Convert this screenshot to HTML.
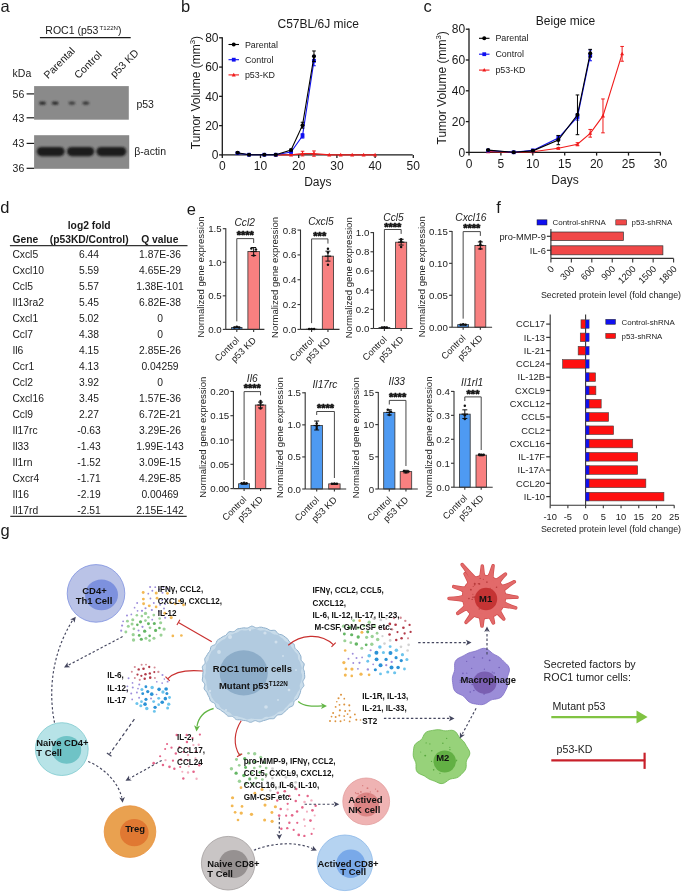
<!DOCTYPE html>
<html><head><meta charset="utf-8"><title>figure</title>
<style>html,body{margin:0;padding:0;background:#fff;width:685px;height:893px;overflow:hidden}svg{display:block;will-change:transform}text{font-family:"Liberation Sans",sans-serif}</style>
</head><body>
<svg width="685" height="893" viewBox="0 0 685 893" fill="#1a1a1a">
<text x="0.40" y="12.00" font-size="16.5">a</text>
<text x="181.00" y="12.00" font-size="16.5">b</text>
<text x="423.40" y="12.00" font-size="16.5">c</text>
<text x="0.20" y="213.40" font-size="16.5">d</text>
<text x="186.80" y="214.50" font-size="16.5">e</text>
<text x="496.20" y="213.20" font-size="16.5">f</text>
<text x="0.40" y="536.00" font-size="16.5">g</text>
<text x="45.3" y="33.6" font-size="10.5">ROC1 (p53<tspan font-size="6.0" dx="1.2" dy="-3.3" textLength="18.4" lengthAdjust="spacingAndGlyphs">T122N</tspan><tspan dy="3.3">)</tspan></text>
<line x1="39.90" y1="37.60" x2="130.70" y2="37.60" stroke="#1a1a1a" stroke-width="1.4"/>
<text x="48.0" y="79.3" font-size="10.5" transform="rotate(-45 48.0 79.3)">Parental</text>
<text x="78.5" y="79.3" font-size="10.5" transform="rotate(-45 78.5 79.3)">Control</text>
<text x="114.5" y="78.3" font-size="10.5" transform="rotate(-45 114.5 78.3)">p53 KD</text>
<text x="12.60" y="76.60" font-size="10.5">kDa</text>
<defs><filter id="bl" x="-20%" y="-50%" width="140%" height="200%"><feGaussianBlur stdDeviation="1.0"/></filter><filter id="bl2" x="-20%" y="-50%" width="140%" height="200%"><feGaussianBlur stdDeviation="0.7"/></filter></defs>
<rect x="34.10" y="86.10" width="94.70" height="33.60" fill="#8a8a8a"/>
<rect x="34.10" y="135.20" width="95.10" height="33.60" fill="#898989"/>
<ellipse cx="42.5" cy="103.1" rx="3.4" ry="1.7" fill="#222" filter="url(#bl)"/>
<ellipse cx="55.2" cy="103.1" rx="3.4" ry="1.7" fill="#222" filter="url(#bl)"/>
<ellipse cx="71.9" cy="103.1" rx="3.4" ry="1.7" fill="#383838" filter="url(#bl)"/>
<ellipse cx="85.8" cy="103.1" rx="3.4" ry="1.7" fill="#303030" filter="url(#bl)"/>
<rect x="36.8" y="146.9" width="27.8" height="9.3" rx="4.6" fill="#1c1c1c" filter="url(#bl)"/>
<rect x="67.0" y="146.9" width="27.2" height="9.3" rx="4.6" fill="#1c1c1c" filter="url(#bl)"/>
<rect x="96.4" y="146.9" width="29.9" height="9.3" rx="4.6" fill="#1c1c1c" filter="url(#bl)"/>
<line x1="26.60" y1="93.90" x2="34.10" y2="93.90" stroke="#1a1a1a" stroke-width="1.2"/>
<text x="24.30" y="97.60" font-size="10.5" text-anchor="end">56</text>
<line x1="26.60" y1="117.80" x2="34.10" y2="117.80" stroke="#1a1a1a" stroke-width="1.2"/>
<text x="24.30" y="121.50" font-size="10.5" text-anchor="end">43</text>
<line x1="26.60" y1="143.40" x2="34.10" y2="143.40" stroke="#1a1a1a" stroke-width="1.2"/>
<text x="24.30" y="147.10" font-size="10.5" text-anchor="end">43</text>
<line x1="26.60" y1="168.30" x2="34.10" y2="168.30" stroke="#1a1a1a" stroke-width="1.2"/>
<text x="24.30" y="172.00" font-size="10.5" text-anchor="end">36</text>
<text x="136.40" y="108.10" font-size="10.5">p53</text>
<text x="134.30" y="155.40" font-size="10.5">β-actin</text>
<text x="318.20" y="27.50" font-size="12" text-anchor="middle">C57BL/6J mice</text>
<line x1="222.30" y1="37.20" x2="222.30" y2="155.50" stroke="#1a1a1a" stroke-width="1.3"/>
<line x1="219.10" y1="154.90" x2="222.30" y2="154.90" stroke="#1a1a1a" stroke-width="1.3"/>
<text x="218.50" y="159.10" font-size="12" text-anchor="end">0</text>
<line x1="219.10" y1="125.62" x2="222.30" y2="125.62" stroke="#1a1a1a" stroke-width="1.3"/>
<text x="218.50" y="129.82" font-size="12" text-anchor="end">20</text>
<line x1="219.10" y1="96.35" x2="222.30" y2="96.35" stroke="#1a1a1a" stroke-width="1.3"/>
<text x="218.50" y="100.55" font-size="12" text-anchor="end">40</text>
<line x1="219.10" y1="67.08" x2="222.30" y2="67.08" stroke="#1a1a1a" stroke-width="1.3"/>
<text x="218.50" y="71.28" font-size="12" text-anchor="end">60</text>
<line x1="219.10" y1="37.80" x2="222.30" y2="37.80" stroke="#1a1a1a" stroke-width="1.3"/>
<text x="218.50" y="42.00" font-size="12" text-anchor="end">80</text>
<line x1="222.30" y1="154.90" x2="412.70" y2="154.90" stroke="#1a1a1a" stroke-width="1.3"/>
<line x1="222.30" y1="154.90" x2="222.30" y2="158.10" stroke="#1a1a1a" stroke-width="1.3"/>
<text x="222.30" y="170.20" font-size="12" text-anchor="middle">0</text>
<line x1="260.50" y1="154.90" x2="260.50" y2="158.10" stroke="#1a1a1a" stroke-width="1.3"/>
<text x="260.50" y="170.20" font-size="12" text-anchor="middle">10</text>
<line x1="298.70" y1="154.90" x2="298.70" y2="158.10" stroke="#1a1a1a" stroke-width="1.3"/>
<text x="298.70" y="170.20" font-size="12" text-anchor="middle">20</text>
<line x1="336.90" y1="154.90" x2="336.90" y2="158.10" stroke="#1a1a1a" stroke-width="1.3"/>
<text x="336.90" y="170.20" font-size="12" text-anchor="middle">30</text>
<line x1="375.10" y1="154.90" x2="375.10" y2="158.10" stroke="#1a1a1a" stroke-width="1.3"/>
<text x="375.10" y="170.20" font-size="12" text-anchor="middle">40</text>
<line x1="413.30" y1="154.90" x2="413.30" y2="158.10" stroke="#1a1a1a" stroke-width="1.3"/>
<text x="413.30" y="170.20" font-size="12" text-anchor="middle">50</text>
<text x="317.80" y="186.30" font-size="12" text-anchor="middle">Days</text>
<text x="199.8" y="92.50" font-size="12" text-anchor="middle" transform="rotate(-90 199.8 92.50)">Tumor Volume (mm<tspan font-size="7.8" dy="-4.6">3</tspan><tspan dy="4.6">)</tspan></text>
<path d="M275.78,154.90 L291.06,154.90 L302.52,153.58 L313.98,153.58 L329.26,154.90 L340.72,154.90 L352.18,154.90 L363.64,154.90 L375.10,154.90" fill="none" stroke="#f01c1c" stroke-width="1.1"/>
<path d="M275.78,152.80 L277.78,156.40 L273.78,156.40Z" fill="#f01c1c"/>
<path d="M291.06,152.80 L293.06,156.40 L289.06,156.40Z" fill="#f01c1c"/>
<line x1="302.52" y1="151.24" x2="302.52" y2="155.92" stroke="#f01c1c" stroke-width="1"/>
<line x1="300.72" y1="151.24" x2="304.32" y2="151.24" stroke="#f01c1c" stroke-width="1"/>
<line x1="300.72" y1="155.92" x2="304.32" y2="155.92" stroke="#f01c1c" stroke-width="1"/>
<path d="M302.52,151.48 L304.52,155.08 L300.52,155.08Z" fill="#f01c1c"/>
<line x1="313.98" y1="150.95" x2="313.98" y2="156.22" stroke="#f01c1c" stroke-width="1"/>
<line x1="312.18" y1="150.95" x2="315.78" y2="150.95" stroke="#f01c1c" stroke-width="1"/>
<line x1="312.18" y1="156.22" x2="315.78" y2="156.22" stroke="#f01c1c" stroke-width="1"/>
<path d="M313.98,151.48 L315.98,155.08 L311.98,155.08Z" fill="#f01c1c"/>
<path d="M329.26,152.80 L331.26,156.40 L327.26,156.40Z" fill="#f01c1c"/>
<path d="M340.72,152.80 L342.72,156.40 L338.72,156.40Z" fill="#f01c1c"/>
<path d="M352.18,152.80 L354.18,156.40 L350.18,156.40Z" fill="#f01c1c"/>
<path d="M363.64,152.80 L365.64,156.40 L361.64,156.40Z" fill="#f01c1c"/>
<path d="M375.10,152.80 L377.10,156.40 L373.10,156.40Z" fill="#f01c1c"/>
<path d="M237.58,153.14 L249.04,154.75 L264.32,154.75 L275.78,154.75 L291.06,151.97 L302.52,135.87 L313.98,60.78" fill="none" stroke="#1010f0" stroke-width="1.1"/>
<line x1="237.58" y1="152.56" x2="237.58" y2="153.73" stroke="#1010f0" stroke-width="1"/>
<line x1="235.78" y1="152.56" x2="239.38" y2="152.56" stroke="#1010f0" stroke-width="1"/>
<line x1="235.78" y1="153.73" x2="239.38" y2="153.73" stroke="#1010f0" stroke-width="1"/>
<rect x="235.68" y="151.24" width="3.80" height="3.80" fill="#1010f0"/>
<rect x="247.14" y="152.85" width="3.80" height="3.80" fill="#1010f0"/>
<rect x="262.42" y="152.85" width="3.80" height="3.80" fill="#1010f0"/>
<rect x="273.88" y="152.85" width="3.80" height="3.80" fill="#1010f0"/>
<line x1="291.06" y1="151.24" x2="291.06" y2="152.70" stroke="#1010f0" stroke-width="1"/>
<line x1="289.26" y1="151.24" x2="292.86" y2="151.24" stroke="#1010f0" stroke-width="1"/>
<line x1="289.26" y1="152.70" x2="292.86" y2="152.70" stroke="#1010f0" stroke-width="1"/>
<rect x="289.16" y="150.07" width="3.80" height="3.80" fill="#1010f0"/>
<line x1="302.52" y1="133.68" x2="302.52" y2="138.07" stroke="#1010f0" stroke-width="1"/>
<line x1="300.72" y1="133.68" x2="304.32" y2="133.68" stroke="#1010f0" stroke-width="1"/>
<line x1="300.72" y1="138.07" x2="304.32" y2="138.07" stroke="#1010f0" stroke-width="1"/>
<rect x="300.62" y="133.97" width="3.80" height="3.80" fill="#1010f0"/>
<line x1="313.98" y1="55.80" x2="313.98" y2="65.76" stroke="#1010f0" stroke-width="1"/>
<line x1="312.18" y1="55.80" x2="315.78" y2="55.80" stroke="#1010f0" stroke-width="1"/>
<line x1="312.18" y1="65.76" x2="315.78" y2="65.76" stroke="#1010f0" stroke-width="1"/>
<rect x="312.08" y="58.88" width="3.80" height="3.80" fill="#1010f0"/>
<path d="M237.58,152.70 L249.04,154.75 L264.32,154.75 L275.78,154.75 L291.06,150.07 L302.52,125.19 L313.98,56.24" fill="none" stroke="#000000" stroke-width="1.1"/>
<line x1="237.58" y1="152.12" x2="237.58" y2="153.29" stroke="#000000" stroke-width="1"/>
<line x1="235.78" y1="152.12" x2="239.38" y2="152.12" stroke="#000000" stroke-width="1"/>
<line x1="235.78" y1="153.29" x2="239.38" y2="153.29" stroke="#000000" stroke-width="1"/>
<circle cx="237.58" cy="152.70" r="2.00" fill="#000000"/>
<circle cx="249.04" cy="154.75" r="2.00" fill="#000000"/>
<circle cx="264.32" cy="154.75" r="2.00" fill="#000000"/>
<circle cx="275.78" cy="154.75" r="2.00" fill="#000000"/>
<line x1="291.06" y1="149.19" x2="291.06" y2="150.95" stroke="#000000" stroke-width="1"/>
<line x1="289.26" y1="149.19" x2="292.86" y2="149.19" stroke="#000000" stroke-width="1"/>
<line x1="289.26" y1="150.95" x2="292.86" y2="150.95" stroke="#000000" stroke-width="1"/>
<circle cx="291.06" cy="150.07" r="2.00" fill="#000000"/>
<line x1="302.52" y1="122.26" x2="302.52" y2="128.11" stroke="#000000" stroke-width="1"/>
<line x1="300.72" y1="122.26" x2="304.32" y2="122.26" stroke="#000000" stroke-width="1"/>
<line x1="300.72" y1="128.11" x2="304.32" y2="128.11" stroke="#000000" stroke-width="1"/>
<circle cx="302.52" cy="125.19" r="2.00" fill="#000000"/>
<line x1="313.98" y1="50.97" x2="313.98" y2="61.51" stroke="#000000" stroke-width="1"/>
<line x1="312.18" y1="50.97" x2="315.78" y2="50.97" stroke="#000000" stroke-width="1"/>
<line x1="312.18" y1="61.51" x2="315.78" y2="61.51" stroke="#000000" stroke-width="1"/>
<circle cx="313.98" cy="56.24" r="2.00" fill="#000000"/>
<line x1="228.50" y1="44.50" x2="239.00" y2="44.50" stroke="#000000" stroke-width="1.1"/>
<circle cx="233.75" cy="44.50" r="2.00" fill="#000000"/>
<text x="244.90" y="47.60" font-size="8.9">Parental</text>
<line x1="228.50" y1="59.70" x2="239.00" y2="59.70" stroke="#1010f0" stroke-width="1.1"/>
<rect x="231.85" y="57.80" width="3.80" height="3.80" fill="#1010f0"/>
<text x="244.90" y="62.80" font-size="8.9">Control</text>
<line x1="228.50" y1="74.90" x2="239.00" y2="74.90" stroke="#f01c1c" stroke-width="1.1"/>
<path d="M233.75,72.80 L235.75,76.40 L231.75,76.40Z" fill="#f01c1c"/>
<text x="244.90" y="78.00" font-size="8.9">p53-KD</text>
<text x="565.50" y="25.10" font-size="12" text-anchor="middle">Beige mice</text>
<line x1="469.00" y1="28.60" x2="469.00" y2="153.00" stroke="#1a1a1a" stroke-width="1.3"/>
<line x1="465.80" y1="152.40" x2="469.00" y2="152.40" stroke="#1a1a1a" stroke-width="1.3"/>
<text x="465.20" y="156.60" font-size="12" text-anchor="end">0</text>
<line x1="465.80" y1="121.60" x2="469.00" y2="121.60" stroke="#1a1a1a" stroke-width="1.3"/>
<text x="465.20" y="125.80" font-size="12" text-anchor="end">20</text>
<line x1="465.80" y1="90.80" x2="469.00" y2="90.80" stroke="#1a1a1a" stroke-width="1.3"/>
<text x="465.20" y="95.00" font-size="12" text-anchor="end">40</text>
<line x1="465.80" y1="60.00" x2="469.00" y2="60.00" stroke="#1a1a1a" stroke-width="1.3"/>
<text x="465.20" y="64.20" font-size="12" text-anchor="end">60</text>
<line x1="465.80" y1="29.20" x2="469.00" y2="29.20" stroke="#1a1a1a" stroke-width="1.3"/>
<text x="465.20" y="33.40" font-size="12" text-anchor="end">80</text>
<line x1="469.00" y1="152.40" x2="660.60" y2="152.40" stroke="#1a1a1a" stroke-width="1.3"/>
<line x1="469.00" y1="152.40" x2="469.00" y2="155.60" stroke="#1a1a1a" stroke-width="1.3"/>
<text x="469.00" y="167.70" font-size="12" text-anchor="middle">0</text>
<line x1="500.90" y1="152.40" x2="500.90" y2="155.60" stroke="#1a1a1a" stroke-width="1.3"/>
<text x="500.90" y="167.70" font-size="12" text-anchor="middle">5</text>
<line x1="532.80" y1="152.40" x2="532.80" y2="155.60" stroke="#1a1a1a" stroke-width="1.3"/>
<text x="532.80" y="167.70" font-size="12" text-anchor="middle">10</text>
<line x1="564.70" y1="152.40" x2="564.70" y2="155.60" stroke="#1a1a1a" stroke-width="1.3"/>
<text x="564.70" y="167.70" font-size="12" text-anchor="middle">15</text>
<line x1="596.60" y1="152.40" x2="596.60" y2="155.60" stroke="#1a1a1a" stroke-width="1.3"/>
<text x="596.60" y="167.70" font-size="12" text-anchor="middle">20</text>
<line x1="628.50" y1="152.40" x2="628.50" y2="155.60" stroke="#1a1a1a" stroke-width="1.3"/>
<text x="628.50" y="167.70" font-size="12" text-anchor="middle">25</text>
<line x1="660.40" y1="152.40" x2="660.40" y2="155.60" stroke="#1a1a1a" stroke-width="1.3"/>
<text x="660.40" y="167.70" font-size="12" text-anchor="middle">30</text>
<text x="565.00" y="184.30" font-size="12" text-anchor="middle">Days</text>
<text x="445.7" y="87.80" font-size="12" text-anchor="middle" transform="rotate(-90 445.7 87.80)">Tumor Volume (mm<tspan font-size="7.8" dy="-4.6">3</tspan><tspan dy="4.6">)</tspan></text>
<path d="M488.14,151.63 L513.66,152.40 L532.80,151.78 L558.32,148.24 L577.46,144.24 L590.22,133.30 L602.98,115.90 L622.12,53.84" fill="none" stroke="#f01c1c" stroke-width="1.1"/>
<path d="M488.14,149.53 L490.14,153.13 L486.14,153.13Z" fill="#f01c1c"/>
<path d="M513.66,150.30 L515.66,153.90 L511.66,153.90Z" fill="#f01c1c"/>
<path d="M532.80,149.68 L534.80,153.28 L530.80,153.28Z" fill="#f01c1c"/>
<line x1="558.32" y1="147.47" x2="558.32" y2="149.01" stroke="#f01c1c" stroke-width="1"/>
<line x1="556.52" y1="147.47" x2="560.12" y2="147.47" stroke="#f01c1c" stroke-width="1"/>
<line x1="556.52" y1="149.01" x2="560.12" y2="149.01" stroke="#f01c1c" stroke-width="1"/>
<path d="M558.32,146.14 L560.32,149.74 L556.32,149.74Z" fill="#f01c1c"/>
<line x1="577.46" y1="142.70" x2="577.46" y2="145.78" stroke="#f01c1c" stroke-width="1"/>
<line x1="575.66" y1="142.70" x2="579.26" y2="142.70" stroke="#f01c1c" stroke-width="1"/>
<line x1="575.66" y1="145.78" x2="579.26" y2="145.78" stroke="#f01c1c" stroke-width="1"/>
<path d="M577.46,142.14 L579.46,145.74 L575.46,145.74Z" fill="#f01c1c"/>
<line x1="590.22" y1="129.45" x2="590.22" y2="137.15" stroke="#f01c1c" stroke-width="1"/>
<line x1="588.42" y1="129.45" x2="592.02" y2="129.45" stroke="#f01c1c" stroke-width="1"/>
<line x1="588.42" y1="137.15" x2="592.02" y2="137.15" stroke="#f01c1c" stroke-width="1"/>
<path d="M590.22,131.20 L592.22,134.80 L588.22,134.80Z" fill="#f01c1c"/>
<line x1="602.98" y1="98.96" x2="602.98" y2="132.84" stroke="#f01c1c" stroke-width="1"/>
<line x1="601.18" y1="98.96" x2="604.78" y2="98.96" stroke="#f01c1c" stroke-width="1"/>
<line x1="601.18" y1="132.84" x2="604.78" y2="132.84" stroke="#f01c1c" stroke-width="1"/>
<path d="M602.98,113.80 L604.98,117.40 L600.98,117.40Z" fill="#f01c1c"/>
<line x1="622.12" y1="46.45" x2="622.12" y2="61.23" stroke="#f01c1c" stroke-width="1"/>
<line x1="620.32" y1="46.45" x2="623.92" y2="46.45" stroke="#f01c1c" stroke-width="1"/>
<line x1="620.32" y1="61.23" x2="623.92" y2="61.23" stroke="#f01c1c" stroke-width="1"/>
<path d="M622.12,51.74 L624.12,55.34 L620.12,55.34Z" fill="#f01c1c"/>
<path d="M488.14,150.55 L513.66,152.25 L532.80,150.40 L558.32,138.08 L577.46,116.98 L590.22,55.38" fill="none" stroke="#1010f0" stroke-width="1.1"/>
<line x1="488.14" y1="150.09" x2="488.14" y2="151.01" stroke="#1010f0" stroke-width="1"/>
<line x1="486.34" y1="150.09" x2="489.94" y2="150.09" stroke="#1010f0" stroke-width="1"/>
<line x1="486.34" y1="151.01" x2="489.94" y2="151.01" stroke="#1010f0" stroke-width="1"/>
<rect x="486.24" y="148.65" width="3.80" height="3.80" fill="#1010f0"/>
<rect x="511.76" y="150.35" width="3.80" height="3.80" fill="#1010f0"/>
<line x1="532.80" y1="149.94" x2="532.80" y2="150.86" stroke="#1010f0" stroke-width="1"/>
<line x1="531.00" y1="149.94" x2="534.60" y2="149.94" stroke="#1010f0" stroke-width="1"/>
<line x1="531.00" y1="150.86" x2="534.60" y2="150.86" stroke="#1010f0" stroke-width="1"/>
<rect x="530.90" y="148.50" width="3.80" height="3.80" fill="#1010f0"/>
<line x1="558.32" y1="135.77" x2="558.32" y2="140.39" stroke="#1010f0" stroke-width="1"/>
<line x1="556.52" y1="135.77" x2="560.12" y2="135.77" stroke="#1010f0" stroke-width="1"/>
<line x1="556.52" y1="140.39" x2="560.12" y2="140.39" stroke="#1010f0" stroke-width="1"/>
<rect x="556.42" y="136.18" width="3.80" height="3.80" fill="#1010f0"/>
<line x1="577.46" y1="113.90" x2="577.46" y2="120.06" stroke="#1010f0" stroke-width="1"/>
<line x1="575.66" y1="113.90" x2="579.26" y2="113.90" stroke="#1010f0" stroke-width="1"/>
<line x1="575.66" y1="120.06" x2="579.26" y2="120.06" stroke="#1010f0" stroke-width="1"/>
<rect x="575.56" y="115.08" width="3.80" height="3.80" fill="#1010f0"/>
<line x1="590.22" y1="49.99" x2="590.22" y2="60.77" stroke="#1010f0" stroke-width="1"/>
<line x1="588.42" y1="49.99" x2="592.02" y2="49.99" stroke="#1010f0" stroke-width="1"/>
<line x1="588.42" y1="60.77" x2="592.02" y2="60.77" stroke="#1010f0" stroke-width="1"/>
<rect x="588.32" y="53.48" width="3.80" height="3.80" fill="#1010f0"/>
<path d="M488.14,150.09 L513.66,152.25 L532.80,150.86 L558.32,140.08 L577.46,114.82 L590.22,53.22" fill="none" stroke="#000000" stroke-width="1.1"/>
<line x1="488.14" y1="149.63" x2="488.14" y2="150.55" stroke="#000000" stroke-width="1"/>
<line x1="486.34" y1="149.63" x2="489.94" y2="149.63" stroke="#000000" stroke-width="1"/>
<line x1="486.34" y1="150.55" x2="489.94" y2="150.55" stroke="#000000" stroke-width="1"/>
<circle cx="488.14" cy="150.09" r="2.00" fill="#000000"/>
<circle cx="513.66" cy="152.25" r="2.00" fill="#000000"/>
<line x1="532.80" y1="150.40" x2="532.80" y2="151.32" stroke="#000000" stroke-width="1"/>
<line x1="531.00" y1="150.40" x2="534.60" y2="150.40" stroke="#000000" stroke-width="1"/>
<line x1="531.00" y1="151.32" x2="534.60" y2="151.32" stroke="#000000" stroke-width="1"/>
<circle cx="532.80" cy="150.86" r="2.00" fill="#000000"/>
<line x1="558.32" y1="135.46" x2="558.32" y2="144.70" stroke="#000000" stroke-width="1"/>
<line x1="556.52" y1="135.46" x2="560.12" y2="135.46" stroke="#000000" stroke-width="1"/>
<line x1="556.52" y1="144.70" x2="560.12" y2="144.70" stroke="#000000" stroke-width="1"/>
<circle cx="558.32" cy="140.08" r="2.00" fill="#000000"/>
<line x1="577.46" y1="94.96" x2="577.46" y2="134.69" stroke="#000000" stroke-width="1"/>
<line x1="575.66" y1="94.96" x2="579.26" y2="94.96" stroke="#000000" stroke-width="1"/>
<line x1="575.66" y1="134.69" x2="579.26" y2="134.69" stroke="#000000" stroke-width="1"/>
<circle cx="577.46" cy="114.82" r="2.00" fill="#000000"/>
<line x1="590.22" y1="49.37" x2="590.22" y2="57.07" stroke="#000000" stroke-width="1"/>
<line x1="588.42" y1="49.37" x2="592.02" y2="49.37" stroke="#000000" stroke-width="1"/>
<line x1="588.42" y1="57.07" x2="592.02" y2="57.07" stroke="#000000" stroke-width="1"/>
<circle cx="590.22" cy="53.22" r="2.00" fill="#000000"/>
<line x1="479.00" y1="38.30" x2="489.50" y2="38.30" stroke="#000000" stroke-width="1.1"/>
<circle cx="484.25" cy="38.30" r="2.00" fill="#000000"/>
<text x="495.40" y="41.40" font-size="8.9">Parental</text>
<line x1="479.00" y1="54.20" x2="489.50" y2="54.20" stroke="#1010f0" stroke-width="1.1"/>
<rect x="482.35" y="52.30" width="3.80" height="3.80" fill="#1010f0"/>
<text x="495.40" y="57.30" font-size="8.9">Control</text>
<line x1="479.00" y1="70.10" x2="489.50" y2="70.10" stroke="#f01c1c" stroke-width="1.1"/>
<path d="M484.25,68.00 L486.25,71.60 L482.25,71.60Z" fill="#f01c1c"/>
<text x="495.40" y="73.20" font-size="8.9">p53-KD</text>
<text x="89.20" y="228.70" font-size="10.3" text-anchor="middle" font-weight="bold">log2 fold</text>
<text x="12.40" y="242.60" font-size="10.3" font-weight="bold">Gene</text>
<text x="89.20" y="242.60" font-size="10.3" text-anchor="middle" font-weight="bold">(p53KD/Control)</text>
<text x="159.80" y="242.60" font-size="10.3" text-anchor="middle" font-weight="bold">Q value</text>
<line x1="9.90" y1="245.60" x2="187.50" y2="245.60" stroke="#333" stroke-width="1.2"/>
<text x="12.40" y="257.50" font-size="10.3">Cxcl5</text>
<text x="89.00" y="257.50" font-size="10.3" text-anchor="middle">6.44</text>
<text x="160.00" y="257.50" font-size="10.3" text-anchor="middle">1.87E-36</text>
<text x="12.40" y="273.50" font-size="10.3">Cxcl10</text>
<text x="89.00" y="273.50" font-size="10.3" text-anchor="middle">5.59</text>
<text x="160.00" y="273.50" font-size="10.3" text-anchor="middle">4.65E-29</text>
<text x="12.40" y="289.50" font-size="10.3">Ccl5</text>
<text x="89.00" y="289.50" font-size="10.3" text-anchor="middle">5.57</text>
<text x="160.00" y="289.50" font-size="10.3" text-anchor="middle">1.38E-101</text>
<text x="12.40" y="305.50" font-size="10.3">Il13ra2</text>
<text x="89.00" y="305.50" font-size="10.3" text-anchor="middle">5.45</text>
<text x="160.00" y="305.50" font-size="10.3" text-anchor="middle">6.82E-38</text>
<text x="12.40" y="321.50" font-size="10.3">Cxcl1</text>
<text x="89.00" y="321.50" font-size="10.3" text-anchor="middle">5.02</text>
<text x="160.00" y="321.50" font-size="10.3" text-anchor="middle">0</text>
<text x="12.40" y="337.50" font-size="10.3">Ccl7</text>
<text x="89.00" y="337.50" font-size="10.3" text-anchor="middle">4.38</text>
<text x="160.00" y="337.50" font-size="10.3" text-anchor="middle">0</text>
<text x="12.40" y="353.50" font-size="10.3">Il6</text>
<text x="89.00" y="353.50" font-size="10.3" text-anchor="middle">4.15</text>
<text x="160.00" y="353.50" font-size="10.3" text-anchor="middle">2.85E-26</text>
<text x="12.40" y="369.50" font-size="10.3">Ccr1</text>
<text x="89.00" y="369.50" font-size="10.3" text-anchor="middle">4.13</text>
<text x="160.00" y="369.50" font-size="10.3" text-anchor="middle">0.04259</text>
<text x="12.40" y="385.50" font-size="10.3">Ccl2</text>
<text x="89.00" y="385.50" font-size="10.3" text-anchor="middle">3.92</text>
<text x="160.00" y="385.50" font-size="10.3" text-anchor="middle">0</text>
<text x="12.40" y="401.50" font-size="10.3">Cxcl16</text>
<text x="89.00" y="401.50" font-size="10.3" text-anchor="middle">3.45</text>
<text x="160.00" y="401.50" font-size="10.3" text-anchor="middle">1.57E-36</text>
<text x="12.40" y="417.50" font-size="10.3">Ccl9</text>
<text x="89.00" y="417.50" font-size="10.3" text-anchor="middle">2.27</text>
<text x="160.00" y="417.50" font-size="10.3" text-anchor="middle">6.72E-21</text>
<text x="12.40" y="433.50" font-size="10.3">Il17rc</text>
<text x="89.00" y="433.50" font-size="10.3" text-anchor="middle">-0.63</text>
<text x="160.00" y="433.50" font-size="10.3" text-anchor="middle">3.29E-26</text>
<text x="12.40" y="449.50" font-size="10.3">Il33</text>
<text x="89.00" y="449.50" font-size="10.3" text-anchor="middle">-1.43</text>
<text x="160.00" y="449.50" font-size="10.3" text-anchor="middle">1.99E-143</text>
<text x="12.40" y="465.50" font-size="10.3">Il1rn</text>
<text x="89.00" y="465.50" font-size="10.3" text-anchor="middle">-1.52</text>
<text x="160.00" y="465.50" font-size="10.3" text-anchor="middle">3.09E-15</text>
<text x="12.40" y="481.50" font-size="10.3">Cxcr4</text>
<text x="89.00" y="481.50" font-size="10.3" text-anchor="middle">-1.71</text>
<text x="160.00" y="481.50" font-size="10.3" text-anchor="middle">4.29E-85</text>
<text x="12.40" y="497.50" font-size="10.3">Il16</text>
<text x="89.00" y="497.50" font-size="10.3" text-anchor="middle">-2.19</text>
<text x="160.00" y="497.50" font-size="10.3" text-anchor="middle">0.00469</text>
<text x="12.40" y="513.50" font-size="10.3">Il17rd</text>
<text x="89.00" y="513.50" font-size="10.3" text-anchor="middle">-2.51</text>
<text x="160.00" y="513.50" font-size="10.3" text-anchor="middle">2.15E-142</text>
<line x1="10.30" y1="516.40" x2="186.70" y2="516.40" stroke="#333" stroke-width="1.2"/>
<rect x="231.60" y="327.39" width="10.40" height="2.01" fill="#4e9af2" stroke="#333" stroke-width="0.8"/>
<rect x="247.90" y="251.53" width="11.50" height="77.87" fill="#f88080" stroke="#333" stroke-width="0.8"/>
<line x1="225.80" y1="228.20" x2="225.80" y2="329.40" stroke="#333" stroke-width="1.1"/>
<line x1="225.80" y1="329.40" x2="264.40" y2="329.40" stroke="#333" stroke-width="1.1"/>
<line x1="222.80" y1="329.40" x2="225.80" y2="329.40" stroke="#333" stroke-width="1.1"/>
<text x="221.60" y="332.90" font-size="9.7" text-anchor="end" fill="#222">0.0</text>
<line x1="222.80" y1="295.83" x2="225.80" y2="295.83" stroke="#333" stroke-width="1.1"/>
<text x="221.60" y="299.33" font-size="9.7" text-anchor="end" fill="#222">0.5</text>
<line x1="222.80" y1="262.27" x2="225.80" y2="262.27" stroke="#333" stroke-width="1.1"/>
<text x="221.60" y="265.77" font-size="9.7" text-anchor="end" fill="#222">1.0</text>
<line x1="222.80" y1="228.70" x2="225.80" y2="228.70" stroke="#333" stroke-width="1.1"/>
<text x="221.60" y="232.20" font-size="9.7" text-anchor="end" fill="#222">1.5</text>
<line x1="236.80" y1="329.40" x2="236.80" y2="331.90" stroke="#333" stroke-width="1.1"/>
<line x1="253.65" y1="329.40" x2="253.65" y2="331.90" stroke="#333" stroke-width="1.1"/>
<line x1="236.80" y1="327.05" x2="236.80" y2="327.72" stroke="#111" stroke-width="1.0"/>
<line x1="234.30" y1="327.05" x2="239.30" y2="327.05" stroke="#111" stroke-width="1.0"/>
<line x1="234.30" y1="327.72" x2="239.30" y2="327.72" stroke="#111" stroke-width="1.0"/>
<line x1="233.60" y1="327.39" x2="240.00" y2="327.39" stroke="#111" stroke-width="1.2"/>
<circle cx="234.30" cy="327.39" r="1.25" fill="#111"/>
<circle cx="236.80" cy="326.71" r="1.25" fill="#111"/>
<circle cx="239.30" cy="327.39" r="1.25" fill="#111"/>
<line x1="253.65" y1="247.50" x2="253.65" y2="255.55" stroke="#111" stroke-width="1.0"/>
<line x1="251.15" y1="247.50" x2="256.15" y2="247.50" stroke="#111" stroke-width="1.0"/>
<line x1="251.15" y1="255.55" x2="256.15" y2="255.55" stroke="#111" stroke-width="1.0"/>
<line x1="250.45" y1="251.53" x2="256.85" y2="251.53" stroke="#111" stroke-width="1.2"/>
<circle cx="251.35" cy="248.50" r="1.25" fill="#111"/>
<circle cx="255.95" cy="249.51" r="1.25" fill="#111"/>
<circle cx="253.65" cy="255.55" r="1.25" fill="#111"/>
<path d="M236.80,321.39 V238.60 H253.65 V243.00" fill="none" stroke="#333" stroke-width="0.9"/>
<text x="245.22" y="239.30" font-size="11" text-anchor="middle" font-weight="bold" fill="#111" stroke="#111" stroke-width="0.7" stroke-linejoin="round">****</text>
<text x="244.70" y="226.00" font-size="10.2" text-anchor="middle" font-style="italic" fill="#222">Ccl2</text>
<text x="203.70" y="276.90" font-size="9.56" text-anchor="middle" fill="#222" transform="rotate(-90 203.70 276.90)">Normalized gene expression</text>
<text x="239.80" y="340.90" font-size="9.3" text-anchor="end" fill="#222" transform="rotate(-45 239.80 340.90)">Control</text>
<text x="256.65" y="340.90" font-size="9.3" text-anchor="end" fill="#222" transform="rotate(-45 256.65 340.90)">p53 KD</text>
<rect x="306.30" y="329.15" width="10.60" height="0.25" fill="#4e9af2" stroke="#333" stroke-width="0.8"/>
<rect x="322.30" y="256.17" width="11.30" height="73.23" fill="#f88080" stroke="#333" stroke-width="0.8"/>
<line x1="300.50" y1="229.60" x2="300.50" y2="329.40" stroke="#333" stroke-width="1.1"/>
<line x1="300.50" y1="329.40" x2="339.50" y2="329.40" stroke="#333" stroke-width="1.1"/>
<line x1="297.50" y1="329.40" x2="300.50" y2="329.40" stroke="#333" stroke-width="1.1"/>
<text x="296.30" y="332.90" font-size="9.7" text-anchor="end" fill="#222">0.0</text>
<line x1="297.50" y1="304.57" x2="300.50" y2="304.57" stroke="#333" stroke-width="1.1"/>
<text x="296.30" y="308.07" font-size="9.7" text-anchor="end" fill="#222">0.2</text>
<line x1="297.50" y1="279.75" x2="300.50" y2="279.75" stroke="#333" stroke-width="1.1"/>
<text x="296.30" y="283.25" font-size="9.7" text-anchor="end" fill="#222">0.4</text>
<line x1="297.50" y1="254.93" x2="300.50" y2="254.93" stroke="#333" stroke-width="1.1"/>
<text x="296.30" y="258.43" font-size="9.7" text-anchor="end" fill="#222">0.6</text>
<line x1="297.50" y1="230.10" x2="300.50" y2="230.10" stroke="#333" stroke-width="1.1"/>
<text x="296.30" y="233.60" font-size="9.7" text-anchor="end" fill="#222">0.8</text>
<line x1="311.60" y1="329.40" x2="311.60" y2="331.90" stroke="#333" stroke-width="1.1"/>
<line x1="327.95" y1="329.40" x2="327.95" y2="331.90" stroke="#333" stroke-width="1.1"/>
<line x1="308.40" y1="329.15" x2="314.80" y2="329.15" stroke="#111" stroke-width="1.2"/>
<circle cx="309.10" cy="329.03" r="1.25" fill="#111"/>
<circle cx="311.60" cy="329.03" r="1.25" fill="#111"/>
<circle cx="314.10" cy="329.03" r="1.25" fill="#111"/>
<line x1="327.95" y1="251.20" x2="327.95" y2="261.13" stroke="#111" stroke-width="1.0"/>
<line x1="325.45" y1="251.20" x2="330.45" y2="251.20" stroke="#111" stroke-width="1.0"/>
<line x1="325.45" y1="261.13" x2="330.45" y2="261.13" stroke="#111" stroke-width="1.0"/>
<line x1="324.75" y1="256.17" x2="331.15" y2="256.17" stroke="#111" stroke-width="1.2"/>
<circle cx="327.95" cy="248.72" r="1.25" fill="#111"/>
<circle cx="327.95" cy="252.44" r="1.25" fill="#111"/>
<circle cx="327.95" cy="264.86" r="1.25" fill="#111"/>
<path d="M311.60,323.15 V238.90 H327.95 V243.60" fill="none" stroke="#333" stroke-width="0.9"/>
<text x="319.78" y="239.90" font-size="11" text-anchor="middle" font-weight="bold" fill="#111" stroke="#111" stroke-width="0.7" stroke-linejoin="round">***</text>
<text x="320.90" y="224.90" font-size="10.2" text-anchor="middle" font-style="italic" fill="#222">Cxcl5</text>
<text x="278.50" y="277.40" font-size="9.56" text-anchor="middle" fill="#222" transform="rotate(-90 278.50 277.40)">Normalized gene expression</text>
<text x="314.60" y="340.90" font-size="9.3" text-anchor="end" fill="#222" transform="rotate(-45 314.60 340.90)">Control</text>
<text x="330.95" y="340.90" font-size="9.3" text-anchor="end" fill="#222" transform="rotate(-45 330.95 340.90)">p53 KD</text>
<rect x="379.00" y="327.54" width="10.80" height="0.96" fill="#4e9af2" stroke="#333" stroke-width="0.8"/>
<rect x="395.60" y="242.19" width="11.10" height="86.31" fill="#f88080" stroke="#333" stroke-width="0.8"/>
<line x1="373.50" y1="232.10" x2="373.50" y2="328.50" stroke="#333" stroke-width="1.1"/>
<line x1="373.50" y1="328.50" x2="412.60" y2="328.50" stroke="#333" stroke-width="1.1"/>
<line x1="370.50" y1="328.50" x2="373.50" y2="328.50" stroke="#333" stroke-width="1.1"/>
<text x="369.30" y="332.00" font-size="9.7" text-anchor="end" fill="#222">0.0</text>
<line x1="370.50" y1="309.32" x2="373.50" y2="309.32" stroke="#333" stroke-width="1.1"/>
<text x="369.30" y="312.82" font-size="9.7" text-anchor="end" fill="#222">0.2</text>
<line x1="370.50" y1="290.14" x2="373.50" y2="290.14" stroke="#333" stroke-width="1.1"/>
<text x="369.30" y="293.64" font-size="9.7" text-anchor="end" fill="#222">0.4</text>
<line x1="370.50" y1="270.96" x2="373.50" y2="270.96" stroke="#333" stroke-width="1.1"/>
<text x="369.30" y="274.46" font-size="9.7" text-anchor="end" fill="#222">0.6</text>
<line x1="370.50" y1="251.78" x2="373.50" y2="251.78" stroke="#333" stroke-width="1.1"/>
<text x="369.30" y="255.28" font-size="9.7" text-anchor="end" fill="#222">0.8</text>
<line x1="370.50" y1="232.60" x2="373.50" y2="232.60" stroke="#333" stroke-width="1.1"/>
<text x="369.30" y="236.10" font-size="9.7" text-anchor="end" fill="#222">1.0</text>
<line x1="384.40" y1="328.50" x2="384.40" y2="331.00" stroke="#333" stroke-width="1.1"/>
<line x1="401.15" y1="328.50" x2="401.15" y2="331.00" stroke="#333" stroke-width="1.1"/>
<line x1="384.40" y1="327.25" x2="384.40" y2="327.83" stroke="#111" stroke-width="1.0"/>
<line x1="381.90" y1="327.25" x2="386.90" y2="327.25" stroke="#111" stroke-width="1.0"/>
<line x1="381.90" y1="327.83" x2="386.90" y2="327.83" stroke="#111" stroke-width="1.0"/>
<line x1="381.20" y1="327.54" x2="387.60" y2="327.54" stroke="#111" stroke-width="1.2"/>
<circle cx="381.90" cy="327.54" r="1.25" fill="#111"/>
<circle cx="384.40" cy="327.35" r="1.25" fill="#111"/>
<circle cx="386.90" cy="327.54" r="1.25" fill="#111"/>
<line x1="401.15" y1="239.31" x2="401.15" y2="245.07" stroke="#111" stroke-width="1.0"/>
<line x1="398.65" y1="239.31" x2="403.65" y2="239.31" stroke="#111" stroke-width="1.0"/>
<line x1="398.65" y1="245.07" x2="403.65" y2="245.07" stroke="#111" stroke-width="1.0"/>
<line x1="397.95" y1="242.19" x2="404.35" y2="242.19" stroke="#111" stroke-width="1.2"/>
<circle cx="401.15" cy="239.31" r="1.25" fill="#111"/>
<circle cx="401.15" cy="241.23" r="1.25" fill="#111"/>
<circle cx="401.15" cy="246.99" r="1.25" fill="#111"/>
<path d="M384.40,321.54 V229.50 H401.15 V233.90" fill="none" stroke="#333" stroke-width="0.9"/>
<text x="392.77" y="230.90" font-size="11" text-anchor="middle" font-weight="bold" fill="#111" stroke="#111" stroke-width="0.7" stroke-linejoin="round">****</text>
<text x="393.50" y="221.10" font-size="10.2" text-anchor="middle" font-style="italic" fill="#222">Ccl5</text>
<text x="351.60" y="277.80" font-size="9.56" text-anchor="middle" fill="#222" transform="rotate(-90 351.60 277.80)">Normalized gene expression</text>
<text x="387.40" y="340.00" font-size="9.3" text-anchor="end" fill="#222" transform="rotate(-45 387.40 340.00)">Control</text>
<text x="404.15" y="340.00" font-size="9.3" text-anchor="end" fill="#222" transform="rotate(-45 404.15 340.00)">p53 KD</text>
<rect x="457.70" y="324.65" width="10.90" height="2.55" fill="#4e9af2" stroke="#333" stroke-width="0.8"/>
<rect x="474.90" y="245.45" width="10.90" height="81.75" fill="#f88080" stroke="#333" stroke-width="0.8"/>
<line x1="452.10" y1="230.90" x2="452.10" y2="327.20" stroke="#333" stroke-width="1.1"/>
<line x1="452.10" y1="327.20" x2="492.10" y2="327.20" stroke="#333" stroke-width="1.1"/>
<line x1="449.10" y1="327.20" x2="452.10" y2="327.20" stroke="#333" stroke-width="1.1"/>
<text x="447.90" y="330.70" font-size="9.7" text-anchor="end" fill="#222">0.00</text>
<line x1="449.10" y1="295.27" x2="452.10" y2="295.27" stroke="#333" stroke-width="1.1"/>
<text x="447.90" y="298.77" font-size="9.7" text-anchor="end" fill="#222">0.05</text>
<line x1="449.10" y1="263.33" x2="452.10" y2="263.33" stroke="#333" stroke-width="1.1"/>
<text x="447.90" y="266.83" font-size="9.7" text-anchor="end" fill="#222">0.10</text>
<line x1="449.10" y1="231.40" x2="452.10" y2="231.40" stroke="#333" stroke-width="1.1"/>
<text x="447.90" y="234.90" font-size="9.7" text-anchor="end" fill="#222">0.15</text>
<line x1="463.15" y1="327.20" x2="463.15" y2="329.70" stroke="#333" stroke-width="1.1"/>
<line x1="480.35" y1="327.20" x2="480.35" y2="329.70" stroke="#333" stroke-width="1.1"/>
<line x1="463.15" y1="324.33" x2="463.15" y2="324.96" stroke="#111" stroke-width="1.0"/>
<line x1="460.65" y1="324.33" x2="465.65" y2="324.33" stroke="#111" stroke-width="1.0"/>
<line x1="460.65" y1="324.96" x2="465.65" y2="324.96" stroke="#111" stroke-width="1.0"/>
<line x1="459.95" y1="324.65" x2="466.35" y2="324.65" stroke="#111" stroke-width="1.2"/>
<circle cx="460.65" cy="324.65" r="1.25" fill="#111"/>
<circle cx="463.15" cy="324.33" r="1.25" fill="#111"/>
<circle cx="465.65" cy="324.65" r="1.25" fill="#111"/>
<line x1="480.35" y1="241.94" x2="480.35" y2="248.96" stroke="#111" stroke-width="1.0"/>
<line x1="477.85" y1="241.94" x2="482.85" y2="241.94" stroke="#111" stroke-width="1.0"/>
<line x1="477.85" y1="248.96" x2="482.85" y2="248.96" stroke="#111" stroke-width="1.0"/>
<line x1="477.15" y1="245.45" x2="483.55" y2="245.45" stroke="#111" stroke-width="1.2"/>
<circle cx="480.35" cy="241.62" r="1.25" fill="#111"/>
<circle cx="480.35" cy="244.17" r="1.25" fill="#111"/>
<circle cx="480.35" cy="248.64" r="1.25" fill="#111"/>
<path d="M463.15,318.65 V231.60 H480.35 V235.90" fill="none" stroke="#333" stroke-width="0.9"/>
<text x="471.75" y="232.40" font-size="11" text-anchor="middle" font-weight="bold" fill="#111" stroke="#111" stroke-width="0.7" stroke-linejoin="round">****</text>
<text x="470.90" y="221.40" font-size="10.2" text-anchor="middle" font-style="italic" fill="#222">Cxcl16</text>
<text x="424.60" y="276.80" font-size="9.56" text-anchor="middle" fill="#222" transform="rotate(-90 424.60 276.80)">Normalized gene expression</text>
<text x="466.15" y="338.70" font-size="9.3" text-anchor="end" fill="#222" transform="rotate(-45 466.15 338.70)">Control</text>
<text x="483.35" y="338.70" font-size="9.3" text-anchor="end" fill="#222" transform="rotate(-45 483.35 338.70)">p53 KD</text>
<rect x="238.60" y="483.74" width="11.00" height="4.86" fill="#4e9af2" stroke="#333" stroke-width="0.8"/>
<rect x="255.30" y="405.01" width="10.50" height="83.59" fill="#f88080" stroke="#333" stroke-width="0.8"/>
<line x1="233.40" y1="390.90" x2="233.40" y2="488.60" stroke="#333" stroke-width="1.1"/>
<line x1="233.40" y1="488.60" x2="271.50" y2="488.60" stroke="#333" stroke-width="1.1"/>
<line x1="230.40" y1="488.60" x2="233.40" y2="488.60" stroke="#333" stroke-width="1.1"/>
<text x="229.20" y="492.10" font-size="9.7" text-anchor="end" fill="#222">0.00</text>
<line x1="230.40" y1="464.30" x2="233.40" y2="464.30" stroke="#333" stroke-width="1.1"/>
<text x="229.20" y="467.80" font-size="9.7" text-anchor="end" fill="#222">0.05</text>
<line x1="230.40" y1="440.00" x2="233.40" y2="440.00" stroke="#333" stroke-width="1.1"/>
<text x="229.20" y="443.50" font-size="9.7" text-anchor="end" fill="#222">0.10</text>
<line x1="230.40" y1="415.70" x2="233.40" y2="415.70" stroke="#333" stroke-width="1.1"/>
<text x="229.20" y="419.20" font-size="9.7" text-anchor="end" fill="#222">0.15</text>
<line x1="230.40" y1="391.40" x2="233.40" y2="391.40" stroke="#333" stroke-width="1.1"/>
<text x="229.20" y="394.90" font-size="9.7" text-anchor="end" fill="#222">0.20</text>
<line x1="244.10" y1="488.60" x2="244.10" y2="491.10" stroke="#333" stroke-width="1.1"/>
<line x1="260.55" y1="488.60" x2="260.55" y2="491.10" stroke="#333" stroke-width="1.1"/>
<line x1="244.10" y1="483.25" x2="244.10" y2="484.23" stroke="#111" stroke-width="1.0"/>
<line x1="241.60" y1="483.25" x2="246.60" y2="483.25" stroke="#111" stroke-width="1.0"/>
<line x1="241.60" y1="484.23" x2="246.60" y2="484.23" stroke="#111" stroke-width="1.0"/>
<line x1="240.90" y1="483.74" x2="247.30" y2="483.74" stroke="#111" stroke-width="1.2"/>
<circle cx="241.60" cy="483.25" r="1.25" fill="#111"/>
<circle cx="244.10" cy="482.77" r="1.25" fill="#111"/>
<circle cx="246.60" cy="483.25" r="1.25" fill="#111"/>
<line x1="260.55" y1="402.09" x2="260.55" y2="407.92" stroke="#111" stroke-width="1.0"/>
<line x1="258.05" y1="402.09" x2="263.05" y2="402.09" stroke="#111" stroke-width="1.0"/>
<line x1="258.05" y1="407.92" x2="263.05" y2="407.92" stroke="#111" stroke-width="1.0"/>
<line x1="257.35" y1="405.01" x2="263.75" y2="405.01" stroke="#111" stroke-width="1.2"/>
<circle cx="260.55" cy="401.12" r="1.25" fill="#111"/>
<circle cx="260.55" cy="403.06" r="1.25" fill="#111"/>
<circle cx="260.55" cy="408.41" r="1.25" fill="#111"/>
<path d="M244.10,480.00 V391.60 H260.55 V395.40" fill="none" stroke="#333" stroke-width="0.9"/>
<text x="252.32" y="392.10" font-size="11" text-anchor="middle" font-weight="bold" fill="#111" stroke="#111" stroke-width="0.7" stroke-linejoin="round">****</text>
<text x="252.20" y="381.70" font-size="10.2" text-anchor="middle" font-style="italic" fill="#222">Il6</text>
<text x="205.60" y="437.20" font-size="9.56" text-anchor="middle" fill="#222" transform="rotate(-90 205.60 437.20)">Normalized gene expression</text>
<text x="247.10" y="500.10" font-size="9.3" text-anchor="end" fill="#222" transform="rotate(-45 247.10 500.10)">Control</text>
<text x="263.55" y="500.10" font-size="9.3" text-anchor="end" fill="#222" transform="rotate(-45 263.55 500.10)">p53 KD</text>
<rect x="311.00" y="425.51" width="11.40" height="63.49" fill="#4e9af2" stroke="#333" stroke-width="0.8"/>
<rect x="328.70" y="483.87" width="11.40" height="5.13" fill="#f88080" stroke="#333" stroke-width="0.8"/>
<line x1="305.20" y1="392.30" x2="305.20" y2="489.00" stroke="#333" stroke-width="1.1"/>
<line x1="305.20" y1="489.00" x2="346.20" y2="489.00" stroke="#333" stroke-width="1.1"/>
<line x1="302.20" y1="489.00" x2="305.20" y2="489.00" stroke="#333" stroke-width="1.1"/>
<text x="301.00" y="492.50" font-size="9.7" text-anchor="end" fill="#222">0.0</text>
<line x1="302.20" y1="456.93" x2="305.20" y2="456.93" stroke="#333" stroke-width="1.1"/>
<text x="301.00" y="460.43" font-size="9.7" text-anchor="end" fill="#222">0.5</text>
<line x1="302.20" y1="424.87" x2="305.20" y2="424.87" stroke="#333" stroke-width="1.1"/>
<text x="301.00" y="428.37" font-size="9.7" text-anchor="end" fill="#222">1.0</text>
<line x1="302.20" y1="392.80" x2="305.20" y2="392.80" stroke="#333" stroke-width="1.1"/>
<text x="301.00" y="396.30" font-size="9.7" text-anchor="end" fill="#222">1.5</text>
<line x1="316.70" y1="489.00" x2="316.70" y2="491.50" stroke="#333" stroke-width="1.1"/>
<line x1="334.40" y1="489.00" x2="334.40" y2="491.50" stroke="#333" stroke-width="1.1"/>
<line x1="316.70" y1="421.02" x2="316.70" y2="430.00" stroke="#111" stroke-width="1.0"/>
<line x1="314.20" y1="421.02" x2="319.20" y2="421.02" stroke="#111" stroke-width="1.0"/>
<line x1="314.20" y1="430.00" x2="319.20" y2="430.00" stroke="#111" stroke-width="1.0"/>
<line x1="313.50" y1="425.51" x2="319.90" y2="425.51" stroke="#111" stroke-width="1.2"/>
<circle cx="316.70" cy="423.58" r="1.25" fill="#111"/>
<circle cx="316.70" cy="426.79" r="1.25" fill="#111"/>
<circle cx="316.70" cy="428.71" r="1.25" fill="#111"/>
<line x1="334.40" y1="483.55" x2="334.40" y2="484.19" stroke="#111" stroke-width="1.0"/>
<line x1="331.90" y1="483.55" x2="336.90" y2="483.55" stroke="#111" stroke-width="1.0"/>
<line x1="331.90" y1="484.19" x2="336.90" y2="484.19" stroke="#111" stroke-width="1.0"/>
<line x1="331.20" y1="483.87" x2="337.60" y2="483.87" stroke="#111" stroke-width="1.2"/>
<circle cx="331.90" cy="483.87" r="1.25" fill="#111"/>
<circle cx="334.40" cy="483.55" r="1.25" fill="#111"/>
<circle cx="336.90" cy="483.87" r="1.25" fill="#111"/>
<path d="M316.70,415.00 V411.50 H334.40 V478.00" fill="none" stroke="#333" stroke-width="0.9"/>
<text x="325.55" y="412.20" font-size="11" text-anchor="middle" font-weight="bold" fill="#111" stroke="#111" stroke-width="0.7" stroke-linejoin="round">****</text>
<text x="325.00" y="387.60" font-size="10.2" text-anchor="middle" font-style="italic" fill="#222">Il17rc</text>
<text x="282.80" y="437.60" font-size="9.56" text-anchor="middle" fill="#222" transform="rotate(-90 282.80 437.60)">Normalized gene expression</text>
<text x="319.70" y="500.50" font-size="9.3" text-anchor="end" fill="#222" transform="rotate(-45 319.70 500.50)">Control</text>
<text x="337.40" y="500.50" font-size="9.3" text-anchor="end" fill="#222" transform="rotate(-45 337.40 500.50)">p53 KD</text>
<rect x="383.70" y="412.36" width="11.20" height="76.64" fill="#4e9af2" stroke="#333" stroke-width="0.8"/>
<rect x="400.20" y="471.61" width="11.50" height="17.39" fill="#f88080" stroke="#333" stroke-width="0.8"/>
<line x1="378.30" y1="391.90" x2="378.30" y2="489.00" stroke="#333" stroke-width="1.1"/>
<line x1="378.30" y1="489.00" x2="417.80" y2="489.00" stroke="#333" stroke-width="1.1"/>
<line x1="375.30" y1="489.00" x2="378.30" y2="489.00" stroke="#333" stroke-width="1.1"/>
<text x="374.10" y="492.50" font-size="9.7" text-anchor="end" fill="#222">0</text>
<line x1="375.30" y1="456.80" x2="378.30" y2="456.80" stroke="#333" stroke-width="1.1"/>
<text x="374.10" y="460.30" font-size="9.7" text-anchor="end" fill="#222">5</text>
<line x1="375.30" y1="424.60" x2="378.30" y2="424.60" stroke="#333" stroke-width="1.1"/>
<text x="374.10" y="428.10" font-size="9.7" text-anchor="end" fill="#222">10</text>
<line x1="375.30" y1="392.40" x2="378.30" y2="392.40" stroke="#333" stroke-width="1.1"/>
<text x="374.10" y="395.90" font-size="9.7" text-anchor="end" fill="#222">15</text>
<line x1="389.30" y1="489.00" x2="389.30" y2="491.50" stroke="#333" stroke-width="1.1"/>
<line x1="405.95" y1="489.00" x2="405.95" y2="491.50" stroke="#333" stroke-width="1.1"/>
<line x1="389.30" y1="409.79" x2="389.30" y2="414.94" stroke="#111" stroke-width="1.0"/>
<line x1="386.80" y1="409.79" x2="391.80" y2="409.79" stroke="#111" stroke-width="1.0"/>
<line x1="386.80" y1="414.94" x2="391.80" y2="414.94" stroke="#111" stroke-width="1.0"/>
<line x1="386.10" y1="412.36" x2="392.50" y2="412.36" stroke="#111" stroke-width="1.2"/>
<circle cx="387.80" cy="409.79" r="1.25" fill="#111"/>
<circle cx="390.80" cy="411.72" r="1.25" fill="#111"/>
<circle cx="389.30" cy="414.94" r="1.25" fill="#111"/>
<line x1="405.95" y1="470.32" x2="405.95" y2="472.90" stroke="#111" stroke-width="1.0"/>
<line x1="403.45" y1="470.32" x2="408.45" y2="470.32" stroke="#111" stroke-width="1.0"/>
<line x1="403.45" y1="472.90" x2="408.45" y2="472.90" stroke="#111" stroke-width="1.0"/>
<line x1="402.75" y1="471.61" x2="409.15" y2="471.61" stroke="#111" stroke-width="1.2"/>
<circle cx="403.95" cy="470.97" r="1.25" fill="#111"/>
<circle cx="405.95" cy="472.26" r="1.25" fill="#111"/>
<circle cx="408.45" cy="471.61" r="1.25" fill="#111"/>
<path d="M389.30,404.50 V400.40 H405.95 V466.00" fill="none" stroke="#333" stroke-width="0.9"/>
<text x="397.62" y="401.10" font-size="11" text-anchor="middle" font-weight="bold" fill="#111" stroke="#111" stroke-width="0.7" stroke-linejoin="round">****</text>
<text x="396.80" y="384.60" font-size="10.2" text-anchor="middle" font-style="italic" fill="#222">Il33</text>
<text x="358.60" y="437.80" font-size="9.56" text-anchor="middle" fill="#222" transform="rotate(-90 358.60 437.80)">Normalized gene expression</text>
<text x="392.30" y="500.50" font-size="9.3" text-anchor="end" fill="#222" transform="rotate(-45 392.30 500.50)">Control</text>
<text x="408.95" y="500.50" font-size="9.3" text-anchor="end" fill="#222" transform="rotate(-45 408.95 500.50)">p53 KD</text>
<rect x="459.40" y="414.15" width="10.80" height="73.05" fill="#4e9af2" stroke="#333" stroke-width="0.8"/>
<rect x="476.00" y="455.11" width="10.40" height="32.09" fill="#f88080" stroke="#333" stroke-width="0.8"/>
<line x1="454.00" y1="390.90" x2="454.00" y2="487.20" stroke="#333" stroke-width="1.1"/>
<line x1="454.00" y1="487.20" x2="492.70" y2="487.20" stroke="#333" stroke-width="1.1"/>
<line x1="451.00" y1="487.20" x2="454.00" y2="487.20" stroke="#333" stroke-width="1.1"/>
<text x="449.80" y="490.70" font-size="9.7" text-anchor="end" fill="#222">0.0</text>
<line x1="451.00" y1="463.25" x2="454.00" y2="463.25" stroke="#333" stroke-width="1.1"/>
<text x="449.80" y="466.75" font-size="9.7" text-anchor="end" fill="#222">0.1</text>
<line x1="451.00" y1="439.30" x2="454.00" y2="439.30" stroke="#333" stroke-width="1.1"/>
<text x="449.80" y="442.80" font-size="9.7" text-anchor="end" fill="#222">0.2</text>
<line x1="451.00" y1="415.35" x2="454.00" y2="415.35" stroke="#333" stroke-width="1.1"/>
<text x="449.80" y="418.85" font-size="9.7" text-anchor="end" fill="#222">0.3</text>
<line x1="451.00" y1="391.40" x2="454.00" y2="391.40" stroke="#333" stroke-width="1.1"/>
<text x="449.80" y="394.90" font-size="9.7" text-anchor="end" fill="#222">0.4</text>
<line x1="464.80" y1="487.20" x2="464.80" y2="489.70" stroke="#333" stroke-width="1.1"/>
<line x1="481.20" y1="487.20" x2="481.20" y2="489.70" stroke="#333" stroke-width="1.1"/>
<line x1="464.80" y1="409.84" x2="464.80" y2="418.46" stroke="#111" stroke-width="1.0"/>
<line x1="462.30" y1="409.84" x2="467.30" y2="409.84" stroke="#111" stroke-width="1.0"/>
<line x1="462.30" y1="418.46" x2="467.30" y2="418.46" stroke="#111" stroke-width="1.0"/>
<line x1="461.60" y1="414.15" x2="468.00" y2="414.15" stroke="#111" stroke-width="1.2"/>
<circle cx="464.80" cy="405.77" r="1.25" fill="#111"/>
<circle cx="464.80" cy="415.35" r="1.25" fill="#111"/>
<circle cx="464.80" cy="418.94" r="1.25" fill="#111"/>
<line x1="481.20" y1="454.39" x2="481.20" y2="455.83" stroke="#111" stroke-width="1.0"/>
<line x1="478.70" y1="454.39" x2="483.70" y2="454.39" stroke="#111" stroke-width="1.0"/>
<line x1="478.70" y1="455.83" x2="483.70" y2="455.83" stroke="#111" stroke-width="1.0"/>
<line x1="478.00" y1="455.11" x2="484.40" y2="455.11" stroke="#111" stroke-width="1.2"/>
<circle cx="479.20" cy="454.39" r="1.25" fill="#111"/>
<circle cx="481.20" cy="454.87" r="1.25" fill="#111"/>
<circle cx="483.70" cy="454.63" r="1.25" fill="#111"/>
<path d="M464.80,401.00 V396.90 H481.20 V450.00" fill="none" stroke="#333" stroke-width="0.9"/>
<text x="473.00" y="397.90" font-size="11" text-anchor="middle" font-weight="bold" fill="#111" stroke="#111" stroke-width="0.7" stroke-linejoin="round">***</text>
<text x="472.10" y="385.80" font-size="10.2" text-anchor="middle" font-style="italic" fill="#222">Il1rl1</text>
<text x="431.70" y="437.00" font-size="9.56" text-anchor="middle" fill="#222" transform="rotate(-90 431.70 437.00)">Normalized gene expression</text>
<text x="467.80" y="498.70" font-size="9.3" text-anchor="end" fill="#222" transform="rotate(-45 467.80 498.70)">Control</text>
<text x="484.20" y="498.70" font-size="9.3" text-anchor="end" fill="#222" transform="rotate(-45 484.20 498.70)">p53 KD</text>
<rect x="537.00" y="219.80" width="10.00" height="5.20" fill="#1010f0" stroke="#222" stroke-width="0.5"/>
<text x="552.60" y="225.30" font-size="7.9" fill="#222">Control-shRNA</text>
<rect x="615.80" y="219.80" width="10.80" height="5.20" fill="#f04848" stroke="#222" stroke-width="0.5"/>
<text x="631.50" y="225.30" font-size="7.9" fill="#222">p53-shRNA</text>
<rect x="550.90" y="232.00" width="72.46" height="8.50" fill="#f04848" stroke="#333" stroke-width="0.7"/>
<rect x="550.90" y="245.80" width="112.00" height="9.00" fill="#f04848" stroke="#333" stroke-width="0.7"/>
<line x1="550.90" y1="229.00" x2="550.90" y2="258.40" stroke="#333" stroke-width="1.1"/>
<line x1="550.90" y1="258.40" x2="673.60" y2="258.40" stroke="#333" stroke-width="1.3"/>
<line x1="546.90" y1="236.30" x2="550.90" y2="236.30" stroke="#333" stroke-width="1.2"/>
<text x="545.90" y="239.60" font-size="9.3" text-anchor="end" fill="#222">pro-MMP-9</text>
<line x1="546.90" y1="250.30" x2="550.90" y2="250.30" stroke="#333" stroke-width="1.2"/>
<text x="545.90" y="253.60" font-size="9.3" text-anchor="end" fill="#222">IL-6</text>
<line x1="550.90" y1="258.40" x2="550.90" y2="262.40" stroke="#333" stroke-width="1.1"/>
<text x="554.60" y="269.70" font-size="9.3" text-anchor="end" fill="#222" transform="rotate(-45 554.60 269.70)">0</text>
<line x1="571.35" y1="258.40" x2="571.35" y2="262.40" stroke="#333" stroke-width="1.1"/>
<text x="575.05" y="269.70" font-size="9.3" text-anchor="end" fill="#222" transform="rotate(-45 575.05 269.70)">300</text>
<line x1="591.80" y1="258.40" x2="591.80" y2="262.40" stroke="#333" stroke-width="1.1"/>
<text x="595.50" y="269.70" font-size="9.3" text-anchor="end" fill="#222" transform="rotate(-45 595.50 269.70)">600</text>
<line x1="612.25" y1="258.40" x2="612.25" y2="262.40" stroke="#333" stroke-width="1.1"/>
<text x="615.95" y="269.70" font-size="9.3" text-anchor="end" fill="#222" transform="rotate(-45 615.95 269.70)">900</text>
<line x1="632.70" y1="258.40" x2="632.70" y2="262.40" stroke="#333" stroke-width="1.1"/>
<text x="636.40" y="269.70" font-size="9.3" text-anchor="end" fill="#222" transform="rotate(-45 636.40 269.70)">1200</text>
<line x1="653.15" y1="258.40" x2="653.15" y2="262.40" stroke="#333" stroke-width="1.1"/>
<text x="656.85" y="269.70" font-size="9.3" text-anchor="end" fill="#222" transform="rotate(-45 656.85 269.70)">1500</text>
<line x1="673.60" y1="258.40" x2="673.60" y2="262.40" stroke="#333" stroke-width="1.1"/>
<text x="677.30" y="269.70" font-size="9.3" text-anchor="end" fill="#222" transform="rotate(-45 677.30 269.70)">1800</text>
<text x="611.00" y="297.50" font-size="8.9" text-anchor="middle" fill="#222">Secreted protein level (fold change)</text>
<line x1="550.20" y1="314.50" x2="550.20" y2="505.30" stroke="#333" stroke-width="1.1"/>
<line x1="550.20" y1="505.30" x2="674.20" y2="505.30" stroke="#333" stroke-width="1.1"/>
<line x1="585.60" y1="314.50" x2="585.60" y2="505.30" stroke="#333" stroke-width="1.1"/>
<rect x="580.99" y="319.80" width="4.61" height="8.60" fill="#ff1010" stroke="#444" stroke-width="0.6"/>
<rect x="585.60" y="319.80" width="3.54" height="8.60" fill="#1010f0" stroke="#444" stroke-width="0.4"/>
<line x1="546.20" y1="324.10" x2="550.20" y2="324.10" stroke="#333" stroke-width="1.2"/>
<text x="545.00" y="327.40" font-size="9.3" text-anchor="end" fill="#222">CCL17</text>
<rect x="580.28" y="333.07" width="5.32" height="8.60" fill="#ff1010" stroke="#444" stroke-width="0.6"/>
<rect x="585.60" y="333.07" width="3.54" height="8.60" fill="#1010f0" stroke="#444" stroke-width="0.4"/>
<line x1="546.20" y1="337.37" x2="550.20" y2="337.37" stroke="#333" stroke-width="1.2"/>
<text x="545.00" y="340.67" font-size="9.3" text-anchor="end" fill="#222">IL-13</text>
<rect x="578.16" y="346.34" width="7.44" height="8.60" fill="#ff1010" stroke="#444" stroke-width="0.6"/>
<rect x="585.60" y="346.34" width="3.54" height="8.60" fill="#1010f0" stroke="#444" stroke-width="0.4"/>
<line x1="546.20" y1="350.64" x2="550.20" y2="350.64" stroke="#333" stroke-width="1.2"/>
<text x="545.00" y="353.94" font-size="9.3" text-anchor="end" fill="#222">IL-21</text>
<rect x="562.56" y="359.61" width="23.04" height="8.60" fill="#ff1010" stroke="#444" stroke-width="0.6"/>
<rect x="585.60" y="359.61" width="3.54" height="8.60" fill="#1010f0" stroke="#444" stroke-width="0.4"/>
<line x1="546.20" y1="363.91" x2="550.20" y2="363.91" stroke="#333" stroke-width="1.2"/>
<text x="545.00" y="367.21" font-size="9.3" text-anchor="end" fill="#222">CCL24</text>
<rect x="585.60" y="372.88" width="9.92" height="8.60" fill="#ff1010" stroke="#444" stroke-width="0.6"/>
<rect x="585.60" y="372.88" width="3.54" height="8.60" fill="#1010f0" stroke="#444" stroke-width="0.4"/>
<line x1="546.20" y1="377.18" x2="550.20" y2="377.18" stroke="#333" stroke-width="1.2"/>
<text x="545.00" y="380.48" font-size="9.3" text-anchor="end" fill="#222">IL-12B</text>
<rect x="585.60" y="386.15" width="10.28" height="8.60" fill="#ff1010" stroke="#444" stroke-width="0.6"/>
<rect x="585.60" y="386.15" width="3.54" height="8.60" fill="#1010f0" stroke="#444" stroke-width="0.4"/>
<line x1="546.20" y1="390.45" x2="550.20" y2="390.45" stroke="#333" stroke-width="1.2"/>
<text x="545.00" y="393.75" font-size="9.3" text-anchor="end" fill="#222">CXCL9</text>
<rect x="585.60" y="399.42" width="15.59" height="8.60" fill="#ff1010" stroke="#444" stroke-width="0.6"/>
<rect x="585.60" y="399.42" width="3.54" height="8.60" fill="#1010f0" stroke="#444" stroke-width="0.4"/>
<line x1="546.20" y1="403.72" x2="550.20" y2="403.72" stroke="#333" stroke-width="1.2"/>
<text x="545.00" y="407.02" font-size="9.3" text-anchor="end" fill="#222">CXCL12</text>
<rect x="585.60" y="412.69" width="23.04" height="8.60" fill="#ff1010" stroke="#444" stroke-width="0.6"/>
<rect x="585.60" y="412.69" width="3.54" height="8.60" fill="#1010f0" stroke="#444" stroke-width="0.4"/>
<line x1="546.20" y1="416.99" x2="550.20" y2="416.99" stroke="#333" stroke-width="1.2"/>
<text x="545.00" y="420.29" font-size="9.3" text-anchor="end" fill="#222">CCL5</text>
<rect x="585.60" y="425.96" width="28.00" height="8.60" fill="#ff1010" stroke="#444" stroke-width="0.6"/>
<rect x="585.60" y="425.96" width="3.54" height="8.60" fill="#1010f0" stroke="#444" stroke-width="0.4"/>
<line x1="546.20" y1="430.26" x2="550.20" y2="430.26" stroke="#333" stroke-width="1.2"/>
<text x="545.00" y="433.56" font-size="9.3" text-anchor="end" fill="#222">CCL2</text>
<rect x="585.60" y="439.23" width="47.14" height="8.60" fill="#ff1010" stroke="#444" stroke-width="0.6"/>
<rect x="585.60" y="439.23" width="3.54" height="8.60" fill="#1010f0" stroke="#444" stroke-width="0.4"/>
<line x1="546.20" y1="443.53" x2="550.20" y2="443.53" stroke="#333" stroke-width="1.2"/>
<text x="545.00" y="446.83" font-size="9.3" text-anchor="end" fill="#222">CXCL16</text>
<rect x="585.60" y="452.50" width="52.10" height="8.60" fill="#ff1010" stroke="#444" stroke-width="0.6"/>
<rect x="585.60" y="452.50" width="3.54" height="8.60" fill="#1010f0" stroke="#444" stroke-width="0.4"/>
<line x1="546.20" y1="456.80" x2="550.20" y2="456.80" stroke="#333" stroke-width="1.2"/>
<text x="545.00" y="460.10" font-size="9.3" text-anchor="end" fill="#222">IL-17F</text>
<rect x="585.60" y="465.77" width="52.10" height="8.60" fill="#ff1010" stroke="#444" stroke-width="0.6"/>
<rect x="585.60" y="465.77" width="3.54" height="8.60" fill="#1010f0" stroke="#444" stroke-width="0.4"/>
<line x1="546.20" y1="470.07" x2="550.20" y2="470.07" stroke="#333" stroke-width="1.2"/>
<text x="545.00" y="473.37" font-size="9.3" text-anchor="end" fill="#222">IL-17A</text>
<rect x="585.60" y="479.04" width="60.25" height="8.60" fill="#ff1010" stroke="#444" stroke-width="0.6"/>
<rect x="585.60" y="479.04" width="3.54" height="8.60" fill="#1010f0" stroke="#444" stroke-width="0.4"/>
<line x1="546.20" y1="483.34" x2="550.20" y2="483.34" stroke="#333" stroke-width="1.2"/>
<text x="545.00" y="486.64" font-size="9.3" text-anchor="end" fill="#222">CCL20</text>
<rect x="585.60" y="492.31" width="78.32" height="8.60" fill="#ff1010" stroke="#444" stroke-width="0.6"/>
<rect x="585.60" y="492.31" width="3.54" height="8.60" fill="#1010f0" stroke="#444" stroke-width="0.4"/>
<line x1="546.20" y1="496.61" x2="550.20" y2="496.61" stroke="#333" stroke-width="1.2"/>
<text x="545.00" y="499.91" font-size="9.3" text-anchor="end" fill="#222">IL-10</text>
<line x1="550.16" y1="505.30" x2="550.16" y2="508.30" stroke="#333" stroke-width="1.1"/>
<text x="550.16" y="519.50" font-size="9.3" text-anchor="middle" fill="#222">-10</text>
<line x1="567.88" y1="505.30" x2="567.88" y2="508.30" stroke="#333" stroke-width="1.1"/>
<text x="567.88" y="519.50" font-size="9.3" text-anchor="middle" fill="#222">-5</text>
<line x1="585.60" y1="505.30" x2="585.60" y2="508.30" stroke="#333" stroke-width="1.1"/>
<text x="585.60" y="519.50" font-size="9.3" text-anchor="middle" fill="#222">0</text>
<line x1="603.32" y1="505.30" x2="603.32" y2="508.30" stroke="#333" stroke-width="1.1"/>
<text x="603.32" y="519.50" font-size="9.3" text-anchor="middle" fill="#222">5</text>
<line x1="621.04" y1="505.30" x2="621.04" y2="508.30" stroke="#333" stroke-width="1.1"/>
<text x="621.04" y="519.50" font-size="9.3" text-anchor="middle" fill="#222">10</text>
<line x1="638.76" y1="505.30" x2="638.76" y2="508.30" stroke="#333" stroke-width="1.1"/>
<text x="638.76" y="519.50" font-size="9.3" text-anchor="middle" fill="#222">15</text>
<line x1="656.48" y1="505.30" x2="656.48" y2="508.30" stroke="#333" stroke-width="1.1"/>
<text x="656.48" y="519.50" font-size="9.3" text-anchor="middle" fill="#222">20</text>
<line x1="674.20" y1="505.30" x2="674.20" y2="508.30" stroke="#333" stroke-width="1.1"/>
<text x="674.20" y="519.50" font-size="9.3" text-anchor="middle" fill="#222">25</text>
<text x="611.00" y="532.30" font-size="8.9" text-anchor="middle" fill="#222">Secreted protein level (fold change)</text>
<rect x="605.80" y="319.30" width="9.70" height="5.00" fill="#1010f0" stroke="#222" stroke-width="0.5"/>
<text x="621.60" y="324.60" font-size="7.9" fill="#222">Control-shRNA</text>
<rect x="605.80" y="333.40" width="9.70" height="5.00" fill="#ff1010" stroke="#222" stroke-width="0.5"/>
<text x="621.60" y="338.80" font-size="7.9" fill="#222">p53-shRNA</text>
<circle cx="144.67" cy="631.20" r="1.65" fill="#64b664"/>
<circle cx="148.45" cy="623.69" r="1.48" fill="#64b664"/>
<circle cx="149.64" cy="635.86" r="1.31" fill="#64b664"/>
<circle cx="140.50" cy="621.81" r="1.60" fill="#64b664"/>
<circle cx="137.33" cy="624.84" r="1.29" fill="#64b664"/>
<circle cx="155.59" cy="630.38" r="1.53" fill="#64b664"/>
<circle cx="159.45" cy="627.95" r="1.30" fill="#64b664"/>
<circle cx="141.31" cy="639.28" r="1.58" fill="#64b664"/>
<circle cx="154.32" cy="623.55" r="1.50" fill="#64b664"/>
<circle cx="139.23" cy="635.45" r="1.41" fill="#64b664"/>
<circle cx="136.85" cy="615.20" r="1.31" fill="#9bd297"/>
<circle cx="159.66" cy="618.48" r="1.34" fill="#9bd297"/>
<circle cx="141.86" cy="616.12" r="1.29" fill="#9bd297"/>
<circle cx="153.81" cy="615.06" r="1.37" fill="#9bd297"/>
<circle cx="132.05" cy="624.06" r="1.51" fill="#9bd297"/>
<circle cx="148.38" cy="617.21" r="1.29" fill="#9bd297"/>
<circle cx="125.85" cy="632.09" r="1.47" fill="#9bd297"/>
<circle cx="161.01" cy="635.11" r="1.56" fill="#9bd297"/>
<circle cx="149.58" cy="640.61" r="1.38" fill="#9bd297"/>
<circle cx="160.67" cy="622.81" r="1.54" fill="#9bd297"/>
<circle cx="150.03" cy="627.82" r="1.40" fill="#9bd297"/>
<circle cx="133.20" cy="634.66" r="1.61" fill="#9bd297"/>
<circle cx="133.53" cy="640.00" r="1.67" fill="#9bd297"/>
<circle cx="164.09" cy="629.11" r="1.60" fill="#9bd297"/>
<circle cx="128.31" cy="626.23" r="1.50" fill="#9bd297"/>
<circle cx="153.94" cy="638.20" r="1.55" fill="#9bd297"/>
<circle cx="133.86" cy="628.80" r="1.39" fill="#9bd297"/>
<circle cx="145.91" cy="638.31" r="1.50" fill="#9bd297"/>
<circle cx="132.76" cy="619.82" r="1.55" fill="#9bd297"/>
<circle cx="145.42" cy="620.52" r="1.36" fill="#9bd297"/>
<circle cx="145.50" cy="613.46" r="1.64" fill="#9bd297"/>
<circle cx="127.43" cy="621.13" r="1.45" fill="#9bd297"/>
<circle cx="167.43" cy="593.33" r="1.39" fill="#f3b853"/>
<circle cx="143.19" cy="592.49" r="1.45" fill="#f3b853"/>
<circle cx="149.27" cy="605.87" r="1.47" fill="#f3b853"/>
<circle cx="183.52" cy="604.92" r="1.40" fill="#f3b853"/>
<circle cx="172.83" cy="635.88" r="1.35" fill="#f3b853"/>
<circle cx="156.25" cy="593.04" r="1.52" fill="#f3b853"/>
<circle cx="164.83" cy="613.21" r="1.45" fill="#f3b853"/>
<circle cx="143.35" cy="599.09" r="1.44" fill="#f3b853"/>
<circle cx="143.60" cy="603.80" r="1.46" fill="#f3b853"/>
<circle cx="170.54" cy="602.71" r="1.24" fill="#f3b853"/>
<circle cx="171.21" cy="617.60" r="1.54" fill="#f3b853"/>
<circle cx="181.36" cy="635.50" r="1.36" fill="#f3b853"/>
<circle cx="175.33" cy="603.85" r="1.31" fill="#f3b853"/>
<circle cx="179.37" cy="600.91" r="1.33" fill="#f3b853"/>
<circle cx="156.08" cy="606.89" r="1.34" fill="#f3b853"/>
<circle cx="157.05" cy="598.14" r="1.40" fill="#f3b853"/>
<circle cx="162.04" cy="600.48" r="0.86" fill="#9d8ddb"/>
<circle cx="122.08" cy="625.54" r="1.09" fill="#9d8ddb"/>
<circle cx="150.45" cy="598.50" r="0.91" fill="#9d8ddb"/>
<circle cx="138.53" cy="630.44" r="1.03" fill="#9d8ddb"/>
<circle cx="158.86" cy="611.37" r="0.92" fill="#9d8ddb"/>
<circle cx="148.30" cy="593.65" r="0.89" fill="#9d8ddb"/>
<circle cx="131.33" cy="614.40" r="0.89" fill="#9d8ddb"/>
<circle cx="159.10" cy="589.53" r="0.92" fill="#9d8ddb"/>
<circle cx="142.01" cy="610.78" r="1.11" fill="#9d8ddb"/>
<circle cx="152.35" cy="590.82" r="0.96" fill="#9d8ddb"/>
<circle cx="164.03" cy="608.49" r="0.99" fill="#9d8ddb"/>
<circle cx="134.57" cy="607.67" r="0.85" fill="#9d8ddb"/>
<circle cx="150.09" cy="587.08" r="1.03" fill="#9d8ddb"/>
<circle cx="126.99" cy="615.58" r="1.02" fill="#9d8ddb"/>
<circle cx="142.48" cy="626.87" r="1.12" fill="#9d8ddb"/>
<circle cx="155.25" cy="587.16" r="0.91" fill="#9d8ddb"/>
<circle cx="162.50" cy="592.79" r="0.96" fill="#9d8ddb"/>
<circle cx="137.17" cy="603.05" r="0.98" fill="#9d8ddb"/>
<circle cx="153.79" cy="602.98" r="0.94" fill="#9d8ddb"/>
<circle cx="165.08" cy="604.05" r="1.04" fill="#9d8ddb"/>
<circle cx="151.83" cy="610.02" r="1.10" fill="#9d8ddb"/>
<circle cx="167.88" cy="588.66" r="0.97" fill="#9d8ddb"/>
<circle cx="160.11" cy="604.70" r="1.01" fill="#9d8ddb"/>
<circle cx="137.55" cy="610.77" r="0.88" fill="#9d8ddb"/>
<circle cx="163.41" cy="587.25" r="0.93" fill="#9d8ddb"/>
<circle cx="167.34" cy="599.44" r="0.95" fill="#9d8ddb"/>
<circle cx="165.13" cy="617.73" r="1.07" fill="#9d8ddb"/>
<circle cx="123.12" cy="621.36" r="0.92" fill="#9d8ddb"/>
<circle cx="152.23" cy="619.64" r="0.90" fill="#9d8ddb"/>
<circle cx="121.20" cy="630.66" r="1.08" fill="#9d8ddb"/>
<circle cx="145.51" cy="608.20" r="1.07" fill="#9d8ddb"/>
<circle cx="145.49" cy="674.20" r="1.24" fill="#b23a48"/>
<circle cx="143.50" cy="668.84" r="1.28" fill="#b23a48"/>
<circle cx="149.81" cy="673.42" r="1.20" fill="#b23a48"/>
<circle cx="149.23" cy="667.03" r="1.16" fill="#b23a48"/>
<circle cx="137.49" cy="674.62" r="1.13" fill="#b23a48"/>
<circle cx="154.30" cy="672.12" r="1.05" fill="#b23a48"/>
<circle cx="138.70" cy="669.38" r="1.22" fill="#b23a48"/>
<circle cx="141.37" cy="675.79" r="1.13" fill="#b23a48"/>
<circle cx="144.71" cy="678.71" r="1.20" fill="#b23a48"/>
<circle cx="150.20" cy="677.65" r="1.28" fill="#b23a48"/>
<circle cx="141.63" cy="664.77" r="0.99" fill="#d48a94"/>
<circle cx="139.74" cy="679.81" r="1.09" fill="#d48a94"/>
<circle cx="131.83" cy="671.78" r="1.02" fill="#d48a94"/>
<circle cx="154.60" cy="667.50" r="1.02" fill="#d48a94"/>
<circle cx="154.93" cy="677.97" r="0.96" fill="#d48a94"/>
<circle cx="134.81" cy="667.06" r="1.05" fill="#d48a94"/>
<circle cx="158.38" cy="671.92" r="1.15" fill="#d48a94"/>
<circle cx="146.01" cy="664.58" r="0.94" fill="#d48a94"/>
<circle cx="134.80" cy="677.98" r="1.00" fill="#d48a94"/>
<circle cx="147.75" cy="691.54" r="1.62" fill="#2b92d6"/>
<circle cx="145.04" cy="704.13" r="1.81" fill="#2b92d6"/>
<circle cx="159.07" cy="689.37" r="1.80" fill="#2b92d6"/>
<circle cx="166.11" cy="688.97" r="1.83" fill="#2b92d6"/>
<circle cx="142.73" cy="693.68" r="1.41" fill="#2b92d6"/>
<circle cx="151.75" cy="694.13" r="1.80" fill="#2b92d6"/>
<circle cx="145.97" cy="699.35" r="1.58" fill="#2b92d6"/>
<circle cx="166.90" cy="693.56" r="1.50" fill="#2b92d6"/>
<circle cx="162.22" cy="702.31" r="1.79" fill="#2b92d6"/>
<circle cx="165.34" cy="698.64" r="1.77" fill="#2b92d6"/>
<circle cx="145.90" cy="686.77" r="1.41" fill="#2b92d6"/>
<circle cx="155.07" cy="707.29" r="1.66" fill="#2b92d6"/>
<circle cx="169.53" cy="697.49" r="1.40" fill="#6cc4ec"/>
<circle cx="141.50" cy="701.66" r="1.36" fill="#6cc4ec"/>
<circle cx="152.13" cy="687.55" r="1.73" fill="#6cc4ec"/>
<circle cx="154.35" cy="711.39" r="1.46" fill="#6cc4ec"/>
<circle cx="162.96" cy="692.00" r="1.69" fill="#6cc4ec"/>
<circle cx="158.69" cy="698.36" r="1.47" fill="#6cc4ec"/>
<circle cx="158.69" cy="704.73" r="1.36" fill="#6cc4ec"/>
<circle cx="153.66" cy="701.60" r="1.47" fill="#6cc4ec"/>
<circle cx="168.73" cy="704.18" r="1.65" fill="#6cc4ec"/>
<circle cx="136.93" cy="703.52" r="1.54" fill="#6cc4ec"/>
<circle cx="146.79" cy="708.57" r="1.73" fill="#6cc4ec"/>
<circle cx="167.61" cy="708.11" r="1.50" fill="#6cc4ec"/>
<circle cx="140.81" cy="705.72" r="1.54" fill="#6cc4ec"/>
<circle cx="141.91" cy="689.59" r="1.51" fill="#6cc4ec"/>
<circle cx="164.36" cy="679.10" r="0.83" fill="#9d8ddb"/>
<circle cx="136.91" cy="692.50" r="0.93" fill="#9d8ddb"/>
<circle cx="139.27" cy="684.46" r="1.00" fill="#9d8ddb"/>
<circle cx="132.77" cy="687.47" r="1.00" fill="#9d8ddb"/>
<circle cx="156.78" cy="681.74" r="0.86" fill="#9d8ddb"/>
<circle cx="131.24" cy="693.53" r="0.99" fill="#9d8ddb"/>
<circle cx="162.17" cy="683.09" r="0.88" fill="#9d8ddb"/>
<circle cx="127.40" cy="686.30" r="0.90" fill="#9d8ddb"/>
<circle cx="127.28" cy="690.50" r="0.90" fill="#9d8ddb"/>
<circle cx="128.57" cy="678.33" r="0.97" fill="#9d8ddb"/>
<circle cx="162.49" cy="674.92" r="1.04" fill="#9d8ddb"/>
<circle cx="132.19" cy="699.38" r="0.88" fill="#9d8ddb"/>
<circle cx="137.99" cy="688.53" r="0.88" fill="#9d8ddb"/>
<circle cx="132.53" cy="682.97" r="0.87" fill="#9d8ddb"/>
<circle cx="139.10" cy="697.72" r="0.97" fill="#9d8ddb"/>
<circle cx="156.55" cy="694.52" r="0.83" fill="#9d8ddb"/>
<circle cx="167.61" cy="681.64" r="0.98" fill="#9d8ddb"/>
<circle cx="151.03" cy="698.45" r="0.97" fill="#9d8ddb"/>
<circle cx="162.95" cy="765.00" r="1.24" fill="#e5658a"/>
<circle cx="192.47" cy="738.03" r="1.09" fill="#e5658a"/>
<circle cx="186.70" cy="735.03" r="1.19" fill="#e5658a"/>
<circle cx="193.56" cy="771.73" r="1.28" fill="#e5658a"/>
<circle cx="174.34" cy="768.77" r="1.20" fill="#e5658a"/>
<circle cx="171.48" cy="747.67" r="1.16" fill="#e5658a"/>
<circle cx="199.28" cy="765.31" r="1.20" fill="#e5658a"/>
<circle cx="183.84" cy="751.94" r="1.08" fill="#e5658a"/>
<circle cx="160.13" cy="756.23" r="1.10" fill="#e5658a"/>
<circle cx="172.97" cy="760.70" r="1.15" fill="#e5658a"/>
<circle cx="153.66" cy="763.17" r="1.33" fill="#e5658a"/>
<circle cx="169.48" cy="766.82" r="1.32" fill="#e5658a"/>
<circle cx="180.18" cy="767.03" r="1.09" fill="#e5658a"/>
<circle cx="180.86" cy="759.37" r="1.21" fill="#e5658a"/>
<circle cx="167.07" cy="743.95" r="1.07" fill="#e5658a"/>
<circle cx="199.90" cy="734.56" r="1.12" fill="#e5658a"/>
<circle cx="175.83" cy="753.61" r="1.24" fill="#e5658a"/>
<circle cx="186.92" cy="741.95" r="1.24" fill="#e5658a"/>
<circle cx="179.40" cy="747.20" r="1.10" fill="#e5658a"/>
<circle cx="187.91" cy="760.39" r="1.02" fill="#e5658a"/>
<circle cx="165.17" cy="748.97" r="1.03" fill="#e5658a"/>
<circle cx="176.75" cy="734.99" r="1.28" fill="#e5658a"/>
<circle cx="183.33" cy="778.51" r="1.19" fill="#e5658a"/>
<circle cx="196.02" cy="751.79" r="1.21" fill="#e5658a"/>
<circle cx="165.49" cy="760.09" r="1.18" fill="#f3b0c1"/>
<circle cx="188.64" cy="748.65" r="1.16" fill="#f3b0c1"/>
<circle cx="195.41" cy="758.36" r="1.09" fill="#f3b0c1"/>
<circle cx="193.38" cy="745.07" r="1.16" fill="#f3b0c1"/>
<circle cx="188.02" cy="755.08" r="1.21" fill="#f3b0c1"/>
<circle cx="196.57" cy="778.80" r="1.18" fill="#f3b0c1"/>
<circle cx="188.83" cy="766.36" r="1.11" fill="#f3b0c1"/>
<circle cx="198.73" cy="744.76" r="1.21" fill="#f3b0c1"/>
<circle cx="188.02" cy="772.47" r="1.19" fill="#f3b0c1"/>
<circle cx="182.33" cy="771.80" r="1.07" fill="#f3b0c1"/>
<circle cx="389.56" cy="634.46" r="1.28" fill="#b23a48"/>
<circle cx="409.57" cy="624.96" r="1.15" fill="#b23a48"/>
<circle cx="404.62" cy="633.49" r="1.16" fill="#b23a48"/>
<circle cx="403.42" cy="627.73" r="1.32" fill="#b23a48"/>
<circle cx="389.84" cy="623.91" r="1.37" fill="#b23a48"/>
<circle cx="395.59" cy="624.73" r="1.33" fill="#b23a48"/>
<circle cx="401.58" cy="638.20" r="1.29" fill="#b23a48"/>
<circle cx="397.49" cy="632.10" r="1.09" fill="#b23a48"/>
<circle cx="410.59" cy="631.89" r="1.16" fill="#b23a48"/>
<circle cx="396.22" cy="640.12" r="1.25" fill="#b23a48"/>
<circle cx="405.31" cy="620.81" r="1.18" fill="#d48a94"/>
<circle cx="385.14" cy="628.69" r="1.22" fill="#d48a94"/>
<circle cx="400.63" cy="617.73" r="1.19" fill="#d48a94"/>
<circle cx="408.03" cy="638.34" r="1.05" fill="#d48a94"/>
<circle cx="394.06" cy="618.09" r="1.20" fill="#d48a94"/>
<circle cx="391.99" cy="629.33" r="1.20" fill="#d48a94"/>
<circle cx="344.36" cy="633.96" r="1.46" fill="#64b664"/>
<circle cx="358.21" cy="636.98" r="1.66" fill="#64b664"/>
<circle cx="356.32" cy="643.97" r="1.77" fill="#64b664"/>
<circle cx="367.72" cy="631.85" r="1.54" fill="#64b664"/>
<circle cx="366.18" cy="644.87" r="1.40" fill="#64b664"/>
<circle cx="349.34" cy="627.44" r="1.73" fill="#64b664"/>
<circle cx="351.67" cy="634.75" r="1.60" fill="#64b664"/>
<circle cx="357.89" cy="627.87" r="1.60" fill="#9bd297"/>
<circle cx="369.23" cy="622.27" r="1.66" fill="#9bd297"/>
<circle cx="377.08" cy="633.25" r="1.38" fill="#9bd297"/>
<circle cx="374.63" cy="625.91" r="1.51" fill="#9bd297"/>
<circle cx="364.03" cy="625.80" r="1.54" fill="#9bd297"/>
<circle cx="353.62" cy="620.58" r="1.44" fill="#9bd297"/>
<circle cx="371.81" cy="644.19" r="1.69" fill="#9bd297"/>
<circle cx="377.67" cy="639.46" r="1.73" fill="#9bd297"/>
<circle cx="350.81" cy="642.67" r="1.41" fill="#9bd297"/>
<circle cx="361.78" cy="648.33" r="1.51" fill="#9bd297"/>
<circle cx="372.19" cy="636.54" r="1.69" fill="#9bd297"/>
<circle cx="366.61" cy="637.37" r="1.60" fill="#9bd297"/>
<circle cx="344.82" cy="640.72" r="1.57" fill="#9bd297"/>
<circle cx="343.62" cy="626.15" r="1.72" fill="#9bd297"/>
<circle cx="375.34" cy="669.71" r="1.55" fill="#2b92d6"/>
<circle cx="391.52" cy="667.53" r="2.01" fill="#2b92d6"/>
<circle cx="380.54" cy="665.22" r="2.00" fill="#2b92d6"/>
<circle cx="396.07" cy="657.69" r="1.57" fill="#2b92d6"/>
<circle cx="390.46" cy="652.90" r="1.99" fill="#2b92d6"/>
<circle cx="398.08" cy="667.40" r="1.76" fill="#2b92d6"/>
<circle cx="376.43" cy="652.64" r="1.99" fill="#2b92d6"/>
<circle cx="376.58" cy="659.35" r="1.90" fill="#2b92d6"/>
<circle cx="386.07" cy="659.43" r="1.66" fill="#2b92d6"/>
<circle cx="401.26" cy="660.62" r="1.61" fill="#2b92d6"/>
<circle cx="402.44" cy="654.63" r="1.59" fill="#6cc4ec"/>
<circle cx="387.75" cy="672.00" r="1.55" fill="#6cc4ec"/>
<circle cx="369.21" cy="655.77" r="1.80" fill="#6cc4ec"/>
<circle cx="380.50" cy="673.94" r="1.42" fill="#6cc4ec"/>
<circle cx="367.76" cy="661.32" r="1.47" fill="#6cc4ec"/>
<circle cx="383.42" cy="652.42" r="1.54" fill="#6cc4ec"/>
<circle cx="394.63" cy="672.80" r="1.57" fill="#6cc4ec"/>
<circle cx="404.46" cy="669.00" r="1.41" fill="#6cc4ec"/>
<circle cx="396.38" cy="650.26" r="1.78" fill="#6cc4ec"/>
<circle cx="406.89" cy="659.56" r="1.55" fill="#6cc4ec"/>
<circle cx="379.87" cy="647.03" r="1.78" fill="#6cc4ec"/>
<circle cx="390.16" cy="646.59" r="1.43" fill="#6cc4ec"/>
<circle cx="353.27" cy="662.98" r="0.94" fill="#9d8ddb"/>
<circle cx="362.11" cy="657.45" r="0.90" fill="#9d8ddb"/>
<circle cx="352.72" cy="653.73" r="0.95" fill="#9d8ddb"/>
<circle cx="359.49" cy="662.78" r="1.12" fill="#9d8ddb"/>
<circle cx="357.93" cy="668.86" r="0.96" fill="#9d8ddb"/>
<circle cx="367.85" cy="669.39" r="1.17" fill="#9d8ddb"/>
<circle cx="370.63" cy="650.24" r="1.05" fill="#9d8ddb"/>
<circle cx="373.19" cy="664.35" r="0.94" fill="#9d8ddb"/>
<circle cx="348.43" cy="658.70" r="0.99" fill="#9d8ddb"/>
<circle cx="391.67" cy="661.88" r="1.16" fill="#9d8ddb"/>
<circle cx="386.25" cy="665.16" r="1.12" fill="#9d8ddb"/>
<circle cx="356.51" cy="657.98" r="1.02" fill="#9d8ddb"/>
<circle cx="345.85" cy="668.90" r="1.41" fill="#f3b853"/>
<circle cx="359.64" cy="620.65" r="1.29" fill="#f3b853"/>
<circle cx="360.99" cy="674.20" r="1.64" fill="#f3b853"/>
<circle cx="345.18" cy="650.44" r="1.30" fill="#f3b853"/>
<circle cx="351.76" cy="675.88" r="1.31" fill="#f3b853"/>
<circle cx="361.88" cy="632.32" r="1.50" fill="#f3b853"/>
<circle cx="343.88" cy="662.55" r="1.62" fill="#f3b853"/>
<circle cx="369.08" cy="674.86" r="1.36" fill="#f3b853"/>
<circle cx="351.93" cy="669.09" r="1.62" fill="#f3b853"/>
<circle cx="345.29" cy="675.12" r="1.54" fill="#f3b853"/>
<circle cx="408.64" cy="644.86" r="1.35" fill="#d2d2d2"/>
<circle cx="384.48" cy="643.59" r="1.29" fill="#d2d2d2"/>
<circle cx="380.78" cy="619.94" r="1.43" fill="#d2d2d2"/>
<circle cx="400.98" cy="646.84" r="1.32" fill="#d2d2d2"/>
<circle cx="407.60" cy="650.57" r="1.30" fill="#d2d2d2"/>
<circle cx="382.46" cy="636.19" r="1.11" fill="#d2d2d2"/>
<circle cx="373.63" cy="618.62" r="1.32" fill="#d2d2d2"/>
<circle cx="390.15" cy="640.44" r="1.37" fill="#d2d2d2"/>
<circle cx="386.37" cy="618.73" r="1.12" fill="#d2d2d2"/>
<circle cx="356.31" cy="719.67" r="1.01" fill="#dc9440"/>
<circle cx="335.37" cy="721.21" r="0.94" fill="#dc9440"/>
<circle cx="335.64" cy="706.89" r="0.92" fill="#dc9440"/>
<circle cx="339.88" cy="710.37" r="1.05" fill="#dc9440"/>
<circle cx="349.30" cy="705.36" r="1.03" fill="#dc9440"/>
<circle cx="344.33" cy="720.06" r="0.83" fill="#dc9440"/>
<circle cx="344.25" cy="704.47" r="1.02" fill="#dc9440"/>
<circle cx="347.58" cy="714.12" r="0.87" fill="#dc9440"/>
<circle cx="339.49" cy="704.85" r="0.94" fill="#dc9440"/>
<circle cx="339.34" cy="715.50" r="0.95" fill="#dc9440"/>
<circle cx="333.13" cy="713.00" r="1.02" fill="#dc9440"/>
<circle cx="349.64" cy="710.65" r="0.95" fill="#dc9440"/>
<circle cx="329.99" cy="720.94" r="0.99" fill="#dc9440"/>
<circle cx="350.34" cy="717.22" r="0.99" fill="#dc9440"/>
<circle cx="354.86" cy="714.38" r="0.93" fill="#dc9440"/>
<circle cx="344.30" cy="698.64" r="0.87" fill="#dc9440"/>
<circle cx="345.16" cy="711.00" r="0.96" fill="#dc9440"/>
<circle cx="349.65" cy="721.41" r="0.91" fill="#dc9440"/>
<circle cx="340.52" cy="721.28" r="0.98" fill="#dc9440"/>
<circle cx="338.54" cy="698.19" r="1.03" fill="#dc9440"/>
<circle cx="331.53" cy="716.56" r="0.89" fill="#dc9440"/>
<circle cx="360.50" cy="720.02" r="0.82" fill="#dc9440"/>
<circle cx="344.19" cy="716.11" r="0.93" fill="#dc9440"/>
<circle cx="335.65" cy="717.07" r="0.97" fill="#dc9440"/>
<circle cx="336.78" cy="701.78" r="0.82" fill="#dc9440"/>
<circle cx="341.02" cy="694.68" r="1.02" fill="#dc9440"/>
<circle cx="245.57" cy="767.49" r="1.49" fill="#64b664"/>
<circle cx="255.05" cy="761.73" r="1.58" fill="#64b664"/>
<circle cx="244.72" cy="758.69" r="1.63" fill="#64b664"/>
<circle cx="243.92" cy="775.52" r="1.72" fill="#64b664"/>
<circle cx="259.84" cy="772.35" r="1.33" fill="#64b664"/>
<circle cx="264.35" cy="762.62" r="1.34" fill="#64b664"/>
<circle cx="236.10" cy="773.18" r="1.62" fill="#64b664"/>
<circle cx="249.73" cy="778.89" r="1.52" fill="#64b664"/>
<circle cx="254.30" cy="767.98" r="1.33" fill="#9bd297"/>
<circle cx="236.47" cy="759.43" r="1.49" fill="#9bd297"/>
<circle cx="255.91" cy="778.14" r="1.41" fill="#9bd297"/>
<circle cx="231.42" cy="768.81" r="1.70" fill="#9bd297"/>
<circle cx="248.51" cy="753.25" r="1.33" fill="#9bd297"/>
<circle cx="266.15" cy="768.09" r="1.36" fill="#9bd297"/>
<circle cx="239.21" cy="765.31" r="1.36" fill="#9bd297"/>
<circle cx="262.38" cy="779.54" r="1.40" fill="#9bd297"/>
<circle cx="254.68" cy="753.78" r="1.70" fill="#9bd297"/>
<circle cx="251.91" cy="773.11" r="1.41" fill="#9bd297"/>
<circle cx="239.43" cy="781.20" r="1.69" fill="#9bd297"/>
<circle cx="249.12" cy="763.10" r="1.63" fill="#9bd297"/>
<circle cx="260.75" cy="757.22" r="1.54" fill="#9bd297"/>
<circle cx="245.87" cy="783.39" r="1.55" fill="#9bd297"/>
<circle cx="266.21" cy="774.44" r="1.34" fill="#9bd297"/>
<circle cx="240.05" cy="754.59" r="1.35" fill="#9bd297"/>
<circle cx="253.26" cy="783.74" r="1.40" fill="#9bd297"/>
<circle cx="260.09" cy="766.49" r="1.36" fill="#9bd297"/>
<circle cx="242.01" cy="806.48" r="1.37" fill="#f3b853"/>
<circle cx="251.49" cy="814.35" r="1.66" fill="#f3b853"/>
<circle cx="232.15" cy="805.91" r="1.45" fill="#f3b853"/>
<circle cx="272.10" cy="821.36" r="1.58" fill="#f3b853"/>
<circle cx="265.46" cy="799.03" r="1.59" fill="#f3b853"/>
<circle cx="232.57" cy="797.74" r="1.60" fill="#f3b853"/>
<circle cx="264.61" cy="819.90" r="1.51" fill="#f3b853"/>
<circle cx="235.12" cy="812.32" r="1.37" fill="#f3b853"/>
<circle cx="254.82" cy="793.24" r="1.40" fill="#f3b853"/>
<circle cx="271.91" cy="812.44" r="1.47" fill="#f3b853"/>
<circle cx="262.03" cy="789.42" r="1.54" fill="#f3b853"/>
<circle cx="241.23" cy="813.11" r="1.68" fill="#f3b853"/>
<circle cx="265.02" cy="805.10" r="1.56" fill="#f3b853"/>
<circle cx="240.98" cy="787.72" r="1.38" fill="#f3b853"/>
<circle cx="275.38" cy="806.75" r="1.60" fill="#f3b853"/>
<circle cx="238.01" cy="820.03" r="1.33" fill="#f3b853"/>
<circle cx="295.75" cy="801.09" r="1.25" fill="#e5658a"/>
<circle cx="297.25" cy="822.84" r="1.14" fill="#e5658a"/>
<circle cx="281.35" cy="828.68" r="1.24" fill="#e5658a"/>
<circle cx="315.64" cy="805.72" r="1.24" fill="#e5658a"/>
<circle cx="284.74" cy="791.26" r="1.33" fill="#e5658a"/>
<circle cx="296.27" cy="789.00" r="1.25" fill="#e5658a"/>
<circle cx="277.22" cy="800.48" r="1.19" fill="#e5658a"/>
<circle cx="298.72" cy="834.98" r="1.36" fill="#e5658a"/>
<circle cx="292.14" cy="815.34" r="1.32" fill="#e5658a"/>
<circle cx="312.43" cy="810.37" r="1.35" fill="#e5658a"/>
<circle cx="299.15" cy="795.14" r="1.12" fill="#e5658a"/>
<circle cx="287.26" cy="828.16" r="1.19" fill="#e5658a"/>
<circle cx="297.10" cy="811.47" r="1.28" fill="#e5658a"/>
<circle cx="302.37" cy="807.38" r="1.27" fill="#e5658a"/>
<circle cx="310.45" cy="820.55" r="1.38" fill="#e5658a"/>
<circle cx="293.65" cy="829.90" r="1.11" fill="#e5658a"/>
<circle cx="280.66" cy="808.91" r="1.25" fill="#e5658a"/>
<circle cx="307.67" cy="795.97" r="1.22" fill="#e5658a"/>
<circle cx="287.67" cy="803.80" r="1.13" fill="#e5658a"/>
<circle cx="277.78" cy="792.87" r="1.32" fill="#e5658a"/>
<circle cx="304.38" cy="835.89" r="1.21" fill="#e5658a"/>
<circle cx="289.32" cy="795.95" r="1.25" fill="#e5658a"/>
<circle cx="289.36" cy="822.77" r="1.22" fill="#e5658a"/>
<circle cx="279.13" cy="815.61" r="1.34" fill="#e5658a"/>
<circle cx="311.63" cy="833.90" r="1.10" fill="#e5658a"/>
<circle cx="286.16" cy="815.69" r="1.09" fill="#e5658a"/>
<circle cx="304.12" cy="819.54" r="1.18" fill="#f3b0c1"/>
<circle cx="304.93" cy="825.99" r="1.00" fill="#f3b0c1"/>
<circle cx="314.70" cy="815.53" r="1.05" fill="#f3b0c1"/>
<circle cx="313.81" cy="828.71" r="1.06" fill="#f3b0c1"/>
<circle cx="311.42" cy="800.40" r="1.21" fill="#f3b0c1"/>
<circle cx="304.53" cy="801.93" r="1.29" fill="#f3b0c1"/>
<circle cx="306.96" cy="811.63" r="1.05" fill="#f3b0c1"/>
<circle cx="287.58" cy="809.48" r="1.14" fill="#f3b0c1"/>
<circle cx="270.37" cy="790.50" r="1.21" fill="#d2d2d2"/>
<circle cx="274.09" cy="784.83" r="1.38" fill="#d2d2d2"/>
<circle cx="271.61" cy="796.77" r="1.30" fill="#d2d2d2"/>
<circle cx="286.02" cy="777.32" r="1.44" fill="#d2d2d2"/>
<circle cx="267.40" cy="782.04" r="1.32" fill="#d2d2d2"/>
<circle cx="272.50" cy="768.59" r="1.39" fill="#d2d2d2"/>
<circle cx="290.30" cy="785.92" r="1.40" fill="#d2d2d2"/>
<circle cx="277.15" cy="775.10" r="1.29" fill="#d2d2d2"/>
<circle cx="279.18" cy="787.29" r="1.38" fill="#d2d2d2"/>
<circle cx="281.99" cy="770.34" r="1.44" fill="#d2d2d2"/>
<circle cx="282.01" cy="782.16" r="1.30" fill="#d2d2d2"/>
<circle cx="290.32" cy="773.35" r="1.32" fill="#d2d2d2"/>
<circle cx="295.69" cy="782.35" r="1.41" fill="#d2d2d2"/>
<circle cx="283.27" cy="797.21" r="1.15" fill="#d2d2d2"/>
<circle cx="272.37" cy="778.05" r="1.33" fill="#d2d2d2"/>
<circle cx="260.24" cy="795.18" r="1.39" fill="#d2d2d2"/>
<circle cx="96.00" cy="593.40" r="28.80" fill="#bac3e7" stroke="#7d90e0" stroke-width="0.8"/>
<ellipse cx="101.50" cy="594.80" rx="16.50" ry="15.40" fill="#7d91de"/>
<text x="94.50" y="593.50" font-size="9.45" text-anchor="middle" font-weight="bold" fill="#111">CD4+</text>
<text x="94.00" y="603.70" font-size="9.45" text-anchor="middle" font-weight="bold" fill="#111">Th1 Cell</text>
<circle cx="61.80" cy="749.10" r="26.40" fill="#b7e3e7" stroke="#7cc9ce" stroke-width="0.8"/>
<ellipse cx="66.60" cy="749.90" rx="14.60" ry="13.90" fill="#6fc3c6"/>
<text x="36.30" y="746.20" font-size="9.45" font-weight="bold" fill="#111">Naive CD4+</text>
<text x="36.30" y="755.90" font-size="9.45" font-weight="bold" fill="#111">T Cell</text>
<circle cx="130.00" cy="831.60" r="25.80" fill="#e9a150" stroke="#e8913c" stroke-width="0.8"/>
<ellipse cx="134.30" cy="832.70" rx="14.30" ry="13.60" fill="#e07832"/>
<text x="135.10" y="831.90" font-size="9.45" text-anchor="middle" font-weight="bold" fill="#111">Treg</text>
<circle cx="366.20" cy="801.40" r="23.40" fill="#efb3b3" stroke="#e29c9c" stroke-width="0.8"/>
<ellipse cx="366.50" cy="804.40" rx="12.40" ry="12.00" fill="#dc8484"/>
<circle cx="362.67" cy="785.69" r="0.64" fill="#d77a7a"/>
<circle cx="377.59" cy="791.25" r="0.89" fill="#d77a7a"/>
<circle cx="367.49" cy="788.14" r="0.91" fill="#d77a7a"/>
<circle cx="368.14" cy="794.50" r="0.88" fill="#d77a7a"/>
<circle cx="375.50" cy="789.03" r="0.63" fill="#d77a7a"/>
<circle cx="356.20" cy="793.57" r="0.64" fill="#d77a7a"/>
<circle cx="370.33" cy="791.93" r="0.59" fill="#d77a7a"/>
<circle cx="358.04" cy="793.62" r="0.91" fill="#d77a7a"/>
<circle cx="355.50" cy="792.72" r="0.62" fill="#d77a7a"/>
<circle cx="360.90" cy="791.92" r="0.85" fill="#d77a7a"/>
<text x="365.40" y="803.10" font-size="9.45" text-anchor="middle" font-weight="bold" fill="#111">Actived</text>
<text x="364.30" y="812.70" font-size="9.45" text-anchor="middle" font-weight="bold" fill="#111">NK cell</text>
<circle cx="228.20" cy="863.20" r="26.80" fill="#c9c5c5" stroke="#a29d9d" stroke-width="0.8"/>
<ellipse cx="233.60" cy="864.00" rx="14.60" ry="14.00" fill="#969191"/>
<text x="207.30" y="866.80" font-size="9.45" font-weight="bold" fill="#111">Naive CD8+</text>
<text x="207.30" y="876.50" font-size="9.45" font-weight="bold" fill="#111">T Cell</text>
<circle cx="344.90" cy="862.80" r="27.80" fill="#b5d3f1" stroke="#8cb8e8" stroke-width="0.8"/>
<ellipse cx="350.70" cy="863.70" rx="14.50" ry="14.20" fill="#79a9e9"/>
<text x="348.10" y="866.50" font-size="9.45" text-anchor="middle" font-weight="bold" fill="#111">Actived CD8+</text>
<text x="353.20" y="875.40" font-size="9.45" text-anchor="middle" font-weight="bold" fill="#111">T Cell</text>
<g fill="#d24f4f"><circle cx="484.0" cy="597.0" r="22.20"/><path d="M479.19,580.06 Q472.13,572.75 463.82,563.63 A1.89,1.89 0 0 0 460.58,565.57 Q468.16,575.13 471.30,584.80Z"/><path d="M486.90,579.68 Q484.09,573.60 484.04,565.88 A1.75,1.75 0 0 0 480.55,566.18 Q479.85,573.97 478.14,580.45Z"/><path d="M493.44,582.19 Q493.43,574.86 494.76,566.32 A1.75,1.75 0 0 0 491.43,565.24 Q489.39,573.54 485.07,579.47Z"/><path d="M498.47,587.06 Q501.04,580.64 506.89,575.16 A1.75,1.75 0 0 0 504.25,572.87 Q497.83,577.85 491.83,581.28Z"/><path d="M501.31,593.89 Q507.28,588.59 515.16,583.37 A1.82,1.82 0 0 0 513.62,580.08 Q505.40,584.57 497.51,585.74Z"/><path d="M501.14,600.80 Q508.26,598.28 517.09,599.10 A1.75,1.75 0 0 0 516.97,595.60 Q508.11,594.03 500.84,592.01Z"/><path d="M498.26,607.29 Q506.01,607.83 515.05,609.58 A1.82,1.82 0 0 0 516.36,606.19 Q507.60,603.68 501.48,598.89Z"/><path d="M492.57,612.35 Q498.12,614.82 502.46,620.18 A1.82,1.82 0 0 0 505.08,617.65 Q501.31,611.73 499.05,606.10Z"/><path d="M485.49,614.55 Q489.25,618.21 491.63,623.49 A1.89,1.89 0 0 0 495.18,622.20 Q493.61,616.62 494.14,611.40Z"/><path d="M477.75,613.44 Q479.45,619.05 480.15,625.76 A1.82,1.82 0 0 0 483.77,626.14 Q483.87,619.51 486.70,614.38Z"/><path d="M470.97,608.81 Q469.45,615.33 464.58,621.35 A1.82,1.82 0 0 0 467.64,623.34 Q473.17,617.75 478.52,613.71Z"/><path d="M467.08,601.69 Q462.76,606.81 456.78,611.85 A1.75,1.75 0 0 0 458.53,614.88 Q464.88,610.49 471.48,609.31Z"/><path d="M466.73,593.70 Q458.81,596.54 448.89,596.63 A1.82,1.82 0 0 0 449.14,600.26 Q459.12,600.97 467.36,602.67Z"/><path d="M469.71,586.80 Q462.59,586.50 454.32,585.02 A1.75,1.75 0 0 0 453.07,588.29 Q461.07,590.47 466.55,595.02Z"/><path d="M475.97,581.36 Q470.36,578.53 466.39,572.48 A1.82,1.82 0 0 0 463.69,574.92 Q467.06,581.50 469.28,587.38Z"/></g>
<g fill="#e26a6a"><circle cx="484.0" cy="597.0" r="21.50"/><path d="M478.59,580.42 Q471.53,573.11 463.22,563.99 A1.19,1.19 0 0 0 461.18,565.21 Q468.76,574.77 471.90,584.44Z"/><path d="M486.20,579.74 Q483.39,573.66 483.34,565.94 A1.05,1.05 0 0 0 481.25,566.12 Q480.55,573.91 478.83,580.39Z"/><path d="M492.77,581.98 Q492.76,574.64 494.09,566.11 A1.05,1.05 0 0 0 492.09,565.46 Q490.05,573.76 485.73,579.69Z"/><path d="M497.95,586.60 Q500.51,580.18 506.36,574.70 A1.05,1.05 0 0 0 504.78,573.33 Q498.36,578.31 492.36,581.74Z"/><path d="M501.01,593.26 Q506.98,587.96 514.87,582.74 A1.12,1.12 0 0 0 513.92,580.71 Q505.70,585.20 497.80,586.37Z"/><path d="M501.12,600.10 Q508.23,597.58 517.07,598.40 A1.05,1.05 0 0 0 517.00,596.30 Q508.14,594.73 500.86,592.71Z"/><path d="M498.51,606.64 Q506.26,607.17 515.30,608.93 A1.12,1.12 0 0 0 516.11,606.84 Q507.35,604.33 501.23,599.54Z"/><path d="M493.08,611.87 Q498.62,614.33 502.97,619.69 A1.12,1.12 0 0 0 504.58,618.14 Q500.81,612.22 498.54,606.59Z"/><path d="M486.15,614.31 Q489.91,617.97 492.29,623.25 A1.19,1.19 0 0 0 494.52,622.43 Q492.95,616.86 493.48,611.64Z"/><path d="M478.44,613.51 Q480.15,619.12 480.85,625.83 A1.12,1.12 0 0 0 483.08,626.06 Q483.17,619.44 486.00,614.30Z"/><path d="M471.55,609.19 Q470.04,615.71 465.17,621.74 A1.12,1.12 0 0 0 467.05,622.96 Q472.58,617.37 477.93,613.33Z"/><path d="M467.43,602.30 Q463.11,607.42 457.13,612.46 A1.05,1.05 0 0 0 458.18,614.28 Q464.53,609.88 471.13,608.70Z"/><path d="M466.78,594.40 Q458.86,597.23 448.94,597.33 A1.12,1.12 0 0 0 449.09,599.56 Q459.07,600.27 467.31,601.98Z"/><path d="M469.46,587.45 Q462.34,587.16 454.07,585.67 A1.05,1.05 0 0 0 453.32,587.63 Q461.32,589.82 466.80,594.36Z"/><path d="M475.45,581.82 Q469.84,579.00 465.87,572.95 A1.12,1.12 0 0 0 464.21,574.45 Q467.58,581.04 469.80,586.91Z"/></g>
<circle cx="474.90" cy="584.04" r="0.80" fill="#b83c3c"/>
<circle cx="489.36" cy="608.12" r="0.53" fill="#b83c3c"/>
<circle cx="472.87" cy="594.19" r="0.50" fill="#b83c3c"/>
<circle cx="472.16" cy="599.40" r="0.72" fill="#b83c3c"/>
<circle cx="472.94" cy="597.21" r="0.83" fill="#b83c3c"/>
<circle cx="490.13" cy="588.25" r="0.56" fill="#b83c3c"/>
<circle cx="495.51" cy="597.73" r="0.83" fill="#b83c3c"/>
<circle cx="491.27" cy="595.30" r="0.90" fill="#b83c3c"/>
<circle cx="478.63" cy="595.87" r="0.84" fill="#b83c3c"/>
<circle cx="487.27" cy="607.02" r="0.73" fill="#b83c3c"/>
<circle cx="473.20" cy="586.42" r="0.52" fill="#b83c3c"/>
<circle cx="475.01" cy="598.88" r="0.64" fill="#b83c3c"/>
<circle cx="478.33" cy="583.54" r="0.60" fill="#b83c3c"/>
<circle cx="486.93" cy="582.16" r="0.80" fill="#b83c3c"/>
<circle cx="470.88" cy="589.66" r="0.91" fill="#b83c3c"/>
<circle cx="488.04" cy="596.05" r="0.78" fill="#b83c3c"/>
<circle cx="495.34" cy="603.94" r="0.59" fill="#b83c3c"/>
<circle cx="474.64" cy="583.60" r="0.89" fill="#b83c3c"/>
<circle cx="496.55" cy="587.33" r="0.77" fill="#b83c3c"/>
<circle cx="479.24" cy="608.92" r="0.68" fill="#b83c3c"/>
<circle cx="474.54" cy="584.88" r="0.73" fill="#b83c3c"/>
<circle cx="474.46" cy="597.05" r="0.87" fill="#b83c3c"/>
<circle cx="479.38" cy="583.90" r="0.91" fill="#b83c3c"/>
<circle cx="483.34" cy="579.27" r="0.51" fill="#b83c3c"/>
<circle cx="468.95" cy="598.59" r="0.82" fill="#b83c3c"/>
<circle cx="480.20" cy="578.29" r="0.65" fill="#b83c3c"/>
<circle cx="486.00" cy="599.00" r="11.20" fill="#c53434"/>
<text x="485.60" y="602.40" font-size="9.45" text-anchor="middle" font-weight="bold" fill="#111">M1</text>
<path d="M507.54,676.80 C507.41,677.40 507.34,677.98 507.32,678.58 C507.30,679.17 507.36,679.77 507.41,680.38 C507.46,681.00 507.57,681.63 507.61,682.26 C507.65,682.89 507.69,683.54 507.65,684.18 C507.62,684.81 507.53,685.45 507.39,686.07 C507.24,686.69 507.02,687.29 506.79,687.89 C506.56,688.48 506.27,689.05 505.99,689.63 C505.71,690.21 505.41,690.78 505.11,691.36 C504.82,691.94 504.53,692.53 504.21,693.11 C503.89,693.69 503.58,694.28 503.21,694.83 C502.83,695.38 502.44,695.94 501.96,696.41 C501.49,696.89 500.96,697.32 500.37,697.67 C499.78,698.02 499.12,698.30 498.44,698.51 C497.77,698.73 497.03,698.85 496.33,698.97 C495.63,699.09 494.90,699.13 494.23,699.24 C493.55,699.34 492.90,699.43 492.29,699.60 C491.68,699.76 491.12,699.98 490.57,700.25 C490.01,700.53 489.50,700.89 488.96,701.26 C488.42,701.62 487.89,702.06 487.33,702.45 C486.76,702.83 486.18,703.24 485.56,703.55 C484.95,703.86 484.30,704.14 483.64,704.32 C482.99,704.51 482.30,704.61 481.62,704.66 C480.95,704.71 480.26,704.67 479.58,704.62 C478.90,704.57 478.22,704.46 477.55,704.36 C476.88,704.27 476.21,704.16 475.55,704.04 C474.88,703.93 474.21,703.82 473.55,703.67 C472.89,703.52 472.23,703.37 471.59,703.15 C470.96,702.93 470.33,702.67 469.75,702.34 C469.16,702.01 468.61,701.60 468.10,701.16 C467.59,700.73 467.13,700.21 466.69,699.71 C466.25,699.21 465.86,698.65 465.44,698.16 C465.03,697.68 464.64,697.19 464.19,696.77 C463.74,696.35 463.27,695.99 462.74,695.66 C462.21,695.33 461.62,695.07 461.01,694.79 C460.39,694.51 459.71,694.28 459.06,693.98 C458.41,693.69 457.72,693.39 457.12,693.02 C456.52,692.64 455.94,692.22 455.46,691.74 C454.98,691.25 454.58,690.70 454.26,690.12 C453.94,689.54 453.72,688.89 453.53,688.26 C453.34,687.62 453.25,686.95 453.14,686.30 C453.03,685.65 452.96,685.00 452.88,684.36 C452.80,683.72 452.71,683.08 452.63,682.45 C452.55,681.82 452.45,681.20 452.40,680.57 C452.35,679.94 452.30,679.31 452.32,678.68 C452.34,678.05 452.41,677.42 452.52,676.80 C452.64,676.18 452.83,675.57 453.02,674.97 C453.22,674.37 453.48,673.79 453.69,673.20 C453.90,672.62 454.14,672.06 454.29,671.48 C454.45,670.90 454.57,670.33 454.63,669.72 C454.69,669.11 454.68,668.48 454.67,667.83 C454.66,667.17 454.58,666.47 454.57,665.78 C454.57,665.09 454.54,664.36 454.64,663.68 C454.73,662.99 454.88,662.30 455.14,661.68 C455.41,661.06 455.78,660.47 456.22,659.96 C456.66,659.45 457.22,659.01 457.80,658.61 C458.37,658.21 459.03,657.89 459.66,657.57 C460.29,657.25 460.95,656.99 461.56,656.70 C462.18,656.41 462.79,656.13 463.37,655.83 C463.95,655.53 464.50,655.21 465.06,654.89 C465.62,654.58 466.15,654.24 466.72,653.94 C467.28,653.64 467.85,653.34 468.43,653.09 C469.02,652.84 469.63,652.62 470.25,652.44 C470.86,652.25 471.49,652.12 472.12,651.97 C472.74,651.83 473.36,651.72 473.98,651.56 C474.60,651.40 475.21,651.24 475.82,651.03 C476.43,650.81 477.04,650.55 477.67,650.28 C478.30,650.01 478.93,649.67 479.59,649.40 C480.25,649.13 480.94,648.82 481.63,648.63 C482.33,648.45 483.05,648.29 483.75,648.28 C484.45,648.26 485.17,648.35 485.84,648.54 C486.51,648.73 487.17,649.06 487.78,649.42 C488.39,649.78 488.96,650.26 489.52,650.71 C490.07,651.16 490.57,651.67 491.09,652.12 C491.61,652.56 492.10,653.00 492.61,653.38 C493.13,653.76 493.66,654.09 494.20,654.41 C494.74,654.72 495.31,654.98 495.88,655.27 C496.44,655.55 497.03,655.82 497.58,656.13 C498.14,656.45 498.69,656.78 499.21,657.15 C499.73,657.52 500.22,657.93 500.69,658.36 C501.16,658.78 501.59,659.25 502.04,659.70 C502.48,660.15 502.91,660.62 503.37,661.08 C503.82,661.53 504.29,661.98 504.78,662.43 C505.27,662.89 505.79,663.34 506.28,663.82 C506.77,664.30 507.29,664.79 507.72,665.32 C508.15,665.86 508.56,666.42 508.84,667.03 C509.12,667.63 509.33,668.29 509.41,668.95 C509.50,669.61 509.46,670.31 509.36,670.99 C509.26,671.67 509.03,672.37 508.82,673.03 C508.61,673.69 508.32,674.34 508.11,674.97 C507.89,675.60 507.67,676.20 507.54,676.80Z" fill="#9b8dd8" stroke="#7f6fc6" stroke-width="0.8"/>
<circle cx="462.91" cy="673.35" r="0.83" fill="#6f5cb5"/>
<circle cx="494.06" cy="672.94" r="0.75" fill="#6f5cb5"/>
<circle cx="473.87" cy="690.50" r="0.77" fill="#6f5cb5"/>
<circle cx="492.26" cy="672.10" r="0.60" fill="#6f5cb5"/>
<circle cx="474.04" cy="657.21" r="0.76" fill="#6f5cb5"/>
<circle cx="479.81" cy="686.98" r="0.79" fill="#6f5cb5"/>
<circle cx="480.32" cy="678.31" r="0.69" fill="#6f5cb5"/>
<circle cx="470.22" cy="692.11" r="0.76" fill="#6f5cb5"/>
<circle cx="484.05" cy="694.04" r="0.83" fill="#6f5cb5"/>
<circle cx="460.52" cy="680.40" r="0.88" fill="#6f5cb5"/>
<circle cx="499.15" cy="667.58" r="0.76" fill="#6f5cb5"/>
<circle cx="489.66" cy="660.34" r="0.91" fill="#6f5cb5"/>
<circle cx="484.39" cy="669.19" r="0.61" fill="#6f5cb5"/>
<circle cx="482.49" cy="657.99" r="0.75" fill="#6f5cb5"/>
<circle cx="460.14" cy="682.25" r="0.59" fill="#6f5cb5"/>
<circle cx="481.69" cy="672.50" r="0.54" fill="#6f5cb5"/>
<circle cx="472.21" cy="684.56" r="0.75" fill="#6f5cb5"/>
<circle cx="474.51" cy="684.34" r="0.57" fill="#6f5cb5"/>
<circle cx="475.42" cy="683.14" r="0.78" fill="#6f5cb5"/>
<circle cx="468.50" cy="678.80" r="0.94" fill="#6f5cb5"/>
<circle cx="471.71" cy="668.27" r="0.61" fill="#6f5cb5"/>
<circle cx="466.65" cy="661.26" r="0.62" fill="#6f5cb5"/>
<circle cx="466.79" cy="673.17" r="0.55" fill="#6f5cb5"/>
<circle cx="485.44" cy="675.48" r="0.94" fill="#6f5cb5"/>
<ellipse cx="484.7" cy="682.7" rx="11.8" ry="11.2" fill="#7a5fb2"/>
<text x="488.30" y="683.40" font-size="9.45" text-anchor="middle" font-weight="bold" fill="#111">Macrophage</text>
<path d="M469.25,755.80 C468.99,756.42 468.58,757.04 468.23,757.62 C467.89,758.21 467.47,758.76 467.17,759.32 C466.87,759.88 466.61,760.41 466.44,760.97 C466.28,761.54 466.22,762.11 466.19,762.71 C466.15,763.31 466.22,763.94 466.23,764.58 C466.24,765.22 466.29,765.90 466.23,766.54 C466.17,767.19 466.07,767.84 465.87,768.45 C465.68,769.05 465.39,769.63 465.06,770.18 C464.73,770.72 464.31,771.22 463.89,771.71 C463.48,772.20 463.02,772.66 462.58,773.12 C462.14,773.58 461.69,774.04 461.24,774.50 C460.79,774.95 460.34,775.41 459.85,775.83 C459.37,776.25 458.87,776.66 458.31,777.00 C457.76,777.33 457.16,777.62 456.54,777.84 C455.93,778.07 455.25,778.20 454.60,778.33 C453.94,778.45 453.26,778.49 452.62,778.59 C451.99,778.70 451.36,778.77 450.78,778.95 C450.19,779.12 449.65,779.35 449.10,779.65 C448.56,779.95 448.05,780.36 447.51,780.76 C446.96,781.16 446.42,781.65 445.84,782.05 C445.25,782.44 444.64,782.86 444.00,783.12 C443.36,783.38 442.68,783.56 442.02,783.62 C441.35,783.67 440.65,783.58 439.99,783.43 C439.33,783.29 438.67,783.01 438.04,782.74 C437.41,782.48 436.80,782.15 436.19,781.87 C435.59,781.59 435.00,781.32 434.41,781.08 C433.82,780.84 433.22,780.65 432.63,780.44 C432.04,780.23 431.44,780.05 430.85,779.82 C430.27,779.60 429.69,779.36 429.13,779.07 C428.58,778.79 428.05,778.45 427.53,778.11 C427.01,777.78 426.53,777.39 426.02,777.05 C425.51,776.70 425.02,776.35 424.47,776.03 C423.93,775.72 423.36,775.45 422.76,775.18 C422.16,774.90 421.50,774.68 420.87,774.39 C420.24,774.11 419.56,773.84 418.98,773.48 C418.40,773.11 417.82,772.70 417.39,772.21 C416.95,771.72 416.60,771.14 416.37,770.52 C416.13,769.91 416.04,769.21 415.97,768.53 C415.91,767.85 415.98,767.13 415.99,766.45 C415.99,765.78 416.06,765.12 416.03,764.49 C415.99,763.87 415.93,763.29 415.78,762.72 C415.64,762.14 415.40,761.61 415.16,761.05 C414.93,760.50 414.61,759.95 414.35,759.38 C414.10,758.81 413.83,758.23 413.65,757.63 C413.46,757.03 413.33,756.41 413.26,755.80 C413.19,755.19 413.20,754.56 413.21,753.94 C413.23,753.32 413.30,752.70 413.35,752.08 C413.40,751.46 413.46,750.84 413.52,750.21 C413.58,749.58 413.62,748.95 413.71,748.32 C413.81,747.69 413.90,747.04 414.10,746.44 C414.30,745.83 414.55,745.23 414.91,744.69 C415.26,744.15 415.72,743.65 416.22,743.20 C416.72,742.75 417.33,742.37 417.90,741.99 C418.47,741.62 419.10,741.31 419.63,740.95 C420.17,740.59 420.68,740.25 421.11,739.83 C421.54,739.42 421.88,738.96 422.20,738.44 C422.53,737.92 422.76,737.32 423.04,736.72 C423.33,736.13 423.57,735.46 423.91,734.87 C424.24,734.29 424.61,733.69 425.06,733.20 C425.51,732.71 426.04,732.28 426.60,731.95 C427.17,731.61 427.81,731.38 428.44,731.18 C429.08,730.98 429.76,730.87 430.42,730.74 C431.07,730.62 431.73,730.53 432.38,730.43 C433.03,730.32 433.66,730.20 434.30,730.09 C434.94,729.99 435.57,729.86 436.21,729.79 C436.84,729.72 437.49,729.66 438.13,729.68 C438.77,729.69 439.42,729.76 440.05,729.86 C440.69,729.96 441.31,730.14 441.93,730.28 C442.55,730.42 443.15,730.60 443.76,730.70 C444.37,730.80 444.96,730.87 445.59,730.87 C446.23,730.88 446.87,730.79 447.54,730.71 C448.21,730.63 448.92,730.47 449.63,730.39 C450.34,730.32 451.09,730.22 451.79,730.26 C452.48,730.31 453.19,730.42 453.81,730.67 C454.44,730.91 455.02,731.29 455.53,731.73 C456.03,732.17 456.46,732.75 456.86,733.31 C457.26,733.86 457.58,734.50 457.93,735.07 C458.28,735.64 458.60,736.20 458.97,736.71 C459.33,737.22 459.72,737.68 460.14,738.12 C460.56,738.56 461.02,738.95 461.47,739.37 C461.92,739.79 462.40,740.18 462.83,740.63 C463.26,741.07 463.68,741.53 464.06,742.02 C464.43,742.51 464.75,743.03 465.07,743.56 C465.39,744.08 465.66,744.63 465.97,745.17 C466.27,745.71 466.57,746.24 466.90,746.78 C467.23,747.32 467.60,747.85 467.95,748.41 C468.29,748.96 468.69,749.52 468.98,750.11 C469.27,750.70 469.55,751.32 469.69,751.94 C469.83,752.57 469.88,753.23 469.81,753.87 C469.74,754.52 469.51,755.18 469.25,755.80Z" fill="#97d27a" stroke="#6cb84e" stroke-width="0.8"/>
<circle cx="436.79" cy="756.85" r="0.91" fill="#58a83e"/>
<circle cx="426.13" cy="742.91" r="0.54" fill="#58a83e"/>
<circle cx="425.21" cy="755.60" r="0.97" fill="#58a83e"/>
<circle cx="449.90" cy="749.65" r="0.71" fill="#58a83e"/>
<circle cx="449.80" cy="747.35" r="0.56" fill="#58a83e"/>
<circle cx="456.71" cy="760.16" r="0.58" fill="#58a83e"/>
<circle cx="439.95" cy="773.34" r="0.61" fill="#58a83e"/>
<circle cx="429.88" cy="743.91" r="0.55" fill="#58a83e"/>
<circle cx="448.99" cy="768.94" r="0.72" fill="#58a83e"/>
<circle cx="451.90" cy="761.75" r="0.67" fill="#58a83e"/>
<circle cx="456.20" cy="760.74" r="0.79" fill="#58a83e"/>
<circle cx="442.86" cy="743.26" r="0.73" fill="#58a83e"/>
<circle cx="454.53" cy="763.09" r="0.68" fill="#58a83e"/>
<circle cx="452.66" cy="761.46" r="0.77" fill="#58a83e"/>
<circle cx="433.65" cy="769.87" r="0.80" fill="#58a83e"/>
<circle cx="420.73" cy="752.06" r="0.55" fill="#58a83e"/>
<circle cx="446.66" cy="738.39" r="0.61" fill="#58a83e"/>
<circle cx="447.55" cy="769.76" r="0.80" fill="#58a83e"/>
<circle cx="431.51" cy="761.39" r="0.65" fill="#58a83e"/>
<circle cx="449.66" cy="760.56" r="0.61" fill="#58a83e"/>
<circle cx="441.56" cy="771.06" r="0.79" fill="#58a83e"/>
<circle cx="443.13" cy="754.46" r="0.65" fill="#58a83e"/>
<circle cx="431.79" cy="750.74" r="0.77" fill="#58a83e"/>
<circle cx="438.31" cy="761.64" r="0.94" fill="#58a83e"/>
<ellipse cx="444.7" cy="761.4" rx="11.2" ry="11.0" fill="#62b044"/>
<text x="442.70" y="760.70" font-size="9.45" text-anchor="middle" font-weight="bold" fill="#111">M2</text>
<path d="M304.55,674.30 C304.59,674.92 304.74,675.55 304.75,676.17 C304.76,676.79 304.81,677.43 304.62,678.04 C304.43,678.65 303.91,679.22 303.62,679.81 C303.33,680.40 302.91,680.95 302.87,681.57 C302.83,682.18 303.21,682.86 303.38,683.52 C303.56,684.18 303.98,684.92 303.92,685.55 C303.86,686.17 303.42,686.74 303.01,687.28 C302.61,687.82 301.85,688.25 301.47,688.78 C301.09,689.32 300.89,689.89 300.72,690.49 C300.55,691.09 300.61,691.77 300.45,692.37 C300.29,692.98 300.02,693.55 299.78,694.13 C299.54,694.70 299.23,695.25 299.00,695.84 C298.76,696.43 298.68,697.10 298.37,697.65 C298.06,698.20 297.67,698.73 297.15,699.16 C296.64,699.59 295.80,699.82 295.27,700.24 C294.75,700.65 294.26,701.06 293.99,701.64 C293.72,702.22 293.84,703.06 293.66,703.72 C293.49,704.38 293.37,705.13 292.94,705.60 C292.51,706.08 291.73,706.30 291.09,706.59 C290.46,706.89 289.67,707.04 289.12,707.40 C288.57,707.76 288.20,708.28 287.77,708.75 C287.33,709.22 286.98,709.78 286.51,710.22 C286.05,710.67 285.49,711.00 284.99,711.42 C284.50,711.85 284.04,712.31 283.57,712.76 C283.09,713.20 282.70,713.79 282.13,714.12 C281.57,714.45 280.86,714.61 280.16,714.73 C279.47,714.86 278.60,714.69 277.95,714.87 C277.31,715.06 276.78,715.40 276.29,715.87 C275.80,716.34 275.51,717.19 275.02,717.68 C274.52,718.16 273.97,718.59 273.32,718.76 C272.67,718.94 271.85,718.72 271.14,718.74 C270.43,718.75 269.72,718.70 269.07,718.84 C268.42,718.98 267.86,719.34 267.24,719.57 C266.62,719.79 265.99,720.01 265.36,720.19 C264.72,720.36 264.05,720.42 263.42,720.62 C262.78,720.82 262.17,721.17 261.53,721.39 C260.88,721.60 260.24,721.91 259.56,721.91 C258.89,721.90 258.17,721.57 257.49,721.36 C256.80,721.15 256.12,720.68 255.46,720.65 C254.80,720.62 254.16,720.91 253.50,721.17 C252.84,721.43 252.15,722.04 251.47,722.20 C250.80,722.36 250.11,722.30 249.45,722.13 C248.79,721.96 248.17,721.43 247.53,721.18 C246.89,720.93 246.26,720.75 245.60,720.63 C244.95,720.52 244.27,720.59 243.61,720.50 C242.95,720.41 242.32,720.22 241.67,720.10 C241.01,719.98 240.38,719.82 239.70,719.77 C239.02,719.72 238.27,719.89 237.59,719.80 C236.92,719.71 236.23,719.60 235.66,719.25 C235.08,718.89 234.67,718.16 234.16,717.68 C233.66,717.21 233.23,716.63 232.61,716.40 C232.00,716.17 231.21,716.32 230.48,716.29 C229.75,716.26 228.89,716.41 228.24,716.21 C227.60,716.00 227.11,715.51 226.63,715.05 C226.14,714.60 225.81,713.93 225.33,713.48 C224.85,713.03 224.30,712.70 223.76,712.34 C223.22,711.97 222.64,711.68 222.12,711.29 C221.60,710.91 221.18,710.42 220.64,710.05 C220.11,709.68 219.53,709.36 218.92,709.06 C218.31,708.76 217.51,708.63 216.98,708.24 C216.45,707.85 216.02,707.34 215.74,706.74 C215.45,706.14 215.52,705.26 215.27,704.64 C215.03,704.02 214.77,703.46 214.26,703.04 C213.76,702.63 212.88,702.49 212.25,702.15 C211.63,701.80 210.93,701.48 210.52,700.99 C210.11,700.49 210.02,699.79 209.82,699.18 C209.61,698.57 209.52,697.90 209.27,697.32 C209.02,696.74 208.62,696.24 208.33,695.69 C208.04,695.13 207.78,694.57 207.52,694.00 C207.27,693.43 207.15,692.81 206.82,692.27 C206.49,691.72 205.97,691.26 205.55,690.74 C205.12,690.22 204.48,689.75 204.26,689.17 C204.04,688.58 204.12,687.89 204.21,687.22 C204.30,686.55 204.79,685.80 204.82,685.16 C204.84,684.52 204.65,683.96 204.34,683.39 C204.02,682.82 203.27,682.32 202.92,681.74 C202.57,681.17 202.31,680.56 202.25,679.94 C202.19,679.32 202.49,678.65 202.58,678.02 C202.67,677.39 202.76,676.77 202.79,676.15 C202.82,675.53 202.71,674.92 202.75,674.30 C202.79,673.68 202.97,673.07 203.03,672.46 C203.10,671.84 203.22,671.24 203.14,670.62 C203.05,669.99 202.66,669.33 202.52,668.69 C202.39,668.05 202.16,667.37 202.32,666.77 C202.49,666.16 203.10,665.62 203.54,665.06 C203.97,664.51 204.68,664.04 204.93,663.46 C205.18,662.89 205.08,662.25 205.04,661.60 C204.99,660.95 204.62,660.19 204.65,659.55 C204.68,658.91 204.92,658.31 205.21,657.75 C205.50,657.18 206.05,656.71 206.40,656.17 C206.75,655.63 207.01,655.07 207.33,654.52 C207.65,653.97 207.92,653.41 208.29,652.89 C208.66,652.38 209.21,651.95 209.55,651.43 C209.89,650.90 210.17,650.35 210.35,649.73 C210.53,649.11 210.42,648.30 210.63,647.68 C210.84,647.06 211.12,646.45 211.63,646.03 C212.15,645.61 213.07,645.47 213.72,645.16 C214.37,644.85 215.10,644.63 215.53,644.17 C215.97,643.70 216.07,642.99 216.34,642.38 C216.61,641.77 216.75,641.02 217.14,640.51 C217.52,639.99 218.12,639.65 218.67,639.28 C219.21,638.91 219.85,638.65 220.40,638.29 C220.95,637.93 221.42,637.48 221.97,637.13 C222.53,636.79 223.13,636.50 223.73,636.22 C224.33,635.94 225.04,635.82 225.58,635.46 C226.12,635.11 226.53,634.59 226.97,634.07 C227.41,633.55 227.69,632.75 228.21,632.34 C228.73,631.92 229.38,631.67 230.08,631.58 C230.77,631.48 231.69,631.80 232.40,631.77 C233.11,631.73 233.78,631.66 234.36,631.36 C234.95,631.07 235.36,630.40 235.91,629.98 C236.45,629.57 237.00,629.11 237.62,628.87 C238.23,628.63 238.94,628.63 239.61,628.52 C240.27,628.41 240.93,628.32 241.59,628.20 C242.25,628.09 242.89,627.88 243.55,627.84 C244.22,627.80 244.93,627.93 245.60,627.95 C246.27,627.97 246.95,628.11 247.60,627.96 C248.25,627.81 248.85,627.36 249.50,627.05 C250.14,626.74 250.80,626.20 251.46,626.12 C252.13,626.04 252.83,626.31 253.50,626.57 C254.17,626.83 254.82,627.47 255.47,627.68 C256.13,627.89 256.77,627.90 257.44,627.82 C258.11,627.75 258.81,627.34 259.49,627.23 C260.18,627.13 260.87,627.12 261.53,627.20 C262.19,627.28 262.82,627.56 263.47,627.72 C264.12,627.87 264.79,627.95 265.43,628.12 C266.07,628.28 266.73,628.44 267.33,628.72 C267.94,629.01 268.46,629.53 269.05,629.83 C269.64,630.12 270.21,630.42 270.89,630.49 C271.57,630.57 272.40,630.28 273.12,630.28 C273.84,630.28 274.64,630.20 275.23,630.49 C275.83,630.78 276.24,631.47 276.69,632.00 C277.15,632.53 277.46,633.27 277.99,633.67 C278.51,634.07 279.17,634.20 279.82,634.39 C280.47,634.58 281.26,634.58 281.89,634.82 C282.52,635.06 283.05,635.44 283.60,635.81 C284.14,636.17 284.61,636.62 285.14,637.00 C285.67,637.39 286.28,637.68 286.76,638.11 C287.24,638.55 287.66,639.06 288.02,639.59 C288.39,640.13 288.55,640.86 288.96,641.35 C289.37,641.84 289.87,642.21 290.49,642.52 C291.11,642.83 292.06,642.88 292.68,643.20 C293.30,643.53 293.89,643.92 294.21,644.48 C294.53,645.03 294.45,645.88 294.61,646.54 C294.77,647.20 294.83,647.90 295.16,648.43 C295.50,648.96 296.13,649.30 296.61,649.75 C297.10,650.19 297.69,650.60 298.09,651.09 C298.49,651.59 298.72,652.19 299.03,652.74 C299.35,653.29 299.67,653.84 299.97,654.39 C300.28,654.94 300.69,655.46 300.87,656.06 C301.05,656.67 301.02,657.35 301.05,658.00 C301.09,658.64 300.89,659.34 301.08,659.93 C301.27,660.52 301.74,661.02 302.19,661.54 C302.64,662.06 303.47,662.51 303.80,663.08 C304.13,663.64 304.24,664.29 304.18,664.93 C304.12,665.58 303.61,666.30 303.47,666.95 C303.33,667.59 303.24,668.21 303.34,668.82 C303.44,669.43 303.87,670.00 304.07,670.60 C304.26,671.20 304.43,671.82 304.51,672.44 C304.59,673.05 304.51,673.68 304.55,674.30Z" fill="#c9dcea" stroke="#8fb0cc" stroke-width="1.0"/>
<path d="M301.90,674.30 C302.09,674.97 302.22,675.66 302.20,676.33 C302.19,677.00 301.90,677.66 301.79,678.33 C301.68,679.00 301.68,679.68 301.54,680.34 C301.41,681.00 301.24,681.66 300.97,682.29 C300.71,682.92 300.16,683.49 299.95,684.13 C299.75,684.77 299.73,685.44 299.73,686.13 C299.73,686.83 300.07,687.63 299.98,688.31 C299.89,688.99 299.56,689.61 299.20,690.21 C298.84,690.80 298.21,691.29 297.82,691.87 C297.44,692.45 297.21,693.08 296.87,693.67 C296.53,694.26 296.19,694.85 295.80,695.42 C295.42,695.98 294.89,696.46 294.58,697.07 C294.27,697.67 294.18,698.40 293.95,699.07 C293.72,699.73 293.63,700.51 293.20,701.05 C292.77,701.60 292.01,701.93 291.39,702.33 C290.78,702.73 290.02,703.01 289.49,703.47 C288.96,703.92 288.65,704.55 288.20,705.08 C287.76,705.60 287.31,706.13 286.81,706.62 C286.32,707.11 285.73,707.50 285.25,708.00 C284.76,708.51 284.42,709.18 283.91,709.67 C283.41,710.16 282.88,710.66 282.21,710.95 C281.54,711.24 280.63,711.20 279.91,711.41 C279.20,711.62 278.51,711.83 277.92,712.21 C277.33,712.60 276.93,713.28 276.37,713.73 C275.82,714.17 275.21,714.56 274.57,714.88 C273.93,715.20 273.22,715.37 272.56,715.66 C271.90,715.94 271.29,716.36 270.61,716.58 C269.92,716.80 269.19,716.92 268.45,716.97 C267.71,717.02 266.88,716.77 266.17,716.87 C265.45,716.97 264.81,717.25 264.15,717.57 C263.49,717.89 262.89,718.52 262.20,718.78 C261.52,719.03 260.77,719.08 260.04,719.11 C259.32,719.14 258.56,718.98 257.83,718.97 C257.11,718.97 256.39,719.11 255.67,719.09 C254.95,719.07 254.22,718.94 253.50,718.84 C252.78,718.74 252.08,718.46 251.36,718.49 C250.64,718.51 249.91,718.83 249.16,718.98 C248.42,719.13 247.64,719.44 246.92,719.38 C246.19,719.32 245.51,718.89 244.83,718.61 C244.15,718.33 243.51,717.91 242.82,717.69 C242.14,717.47 241.40,717.46 240.71,717.29 C240.02,717.12 239.34,716.88 238.66,716.67 C237.97,716.46 237.33,716.18 236.61,716.05 C235.88,715.93 235.05,716.05 234.32,715.91 C233.60,715.77 232.86,715.60 232.26,715.21 C231.66,714.82 231.26,714.05 230.72,713.56 C230.18,713.07 229.66,712.61 229.03,712.28 C228.41,711.95 227.62,711.87 226.96,711.59 C226.30,711.31 225.70,710.93 225.09,710.57 C224.47,710.21 223.92,709.79 223.30,709.43 C222.68,709.07 221.92,708.85 221.36,708.42 C220.81,707.99 220.36,707.42 219.98,706.82 C219.59,706.23 219.48,705.39 219.07,704.84 C218.66,704.28 218.10,703.87 217.51,703.47 C216.92,703.06 216.09,702.83 215.53,702.39 C214.97,701.95 214.57,701.37 214.16,700.81 C213.74,700.26 213.43,699.64 213.04,699.07 C212.65,698.50 212.13,698.00 211.82,697.40 C211.52,696.79 211.39,696.08 211.19,695.42 C210.99,694.76 210.98,694.03 210.64,693.45 C210.29,692.86 209.63,692.42 209.14,691.89 C208.64,691.36 207.98,690.87 207.67,690.26 C207.36,689.65 207.39,688.91 207.28,688.23 C207.18,687.55 207.17,686.86 207.05,686.19 C206.92,685.53 206.63,684.91 206.51,684.25 C206.40,683.59 206.45,682.90 206.37,682.23 C206.29,681.57 206.27,680.91 206.03,680.26 C205.79,679.62 205.20,679.01 204.95,678.35 C204.70,677.70 204.49,677.01 204.55,676.34 C204.61,675.66 205.10,674.97 205.30,674.30 C205.49,673.63 205.65,672.98 205.70,672.31 C205.75,671.64 205.56,670.97 205.58,670.30 C205.60,669.63 205.76,668.98 205.82,668.31 C205.88,667.64 205.93,666.98 205.93,666.29 C205.92,665.61 205.66,664.86 205.78,664.20 C205.89,663.53 206.22,662.89 206.61,662.30 C207.00,661.70 207.75,661.22 208.11,660.62 C208.47,660.02 208.61,659.38 208.76,658.72 C208.90,658.06 208.82,657.31 209.00,656.66 C209.18,656.00 209.55,655.41 209.84,654.80 C210.13,654.18 210.44,653.57 210.74,652.96 C211.04,652.34 211.22,651.65 211.65,651.11 C212.09,650.57 212.77,650.16 213.33,649.71 C213.90,649.25 214.63,648.93 215.05,648.39 C215.47,647.85 215.59,647.11 215.87,646.46 C216.15,645.82 216.33,645.07 216.75,644.52 C217.16,643.96 217.83,643.60 218.38,643.16 C218.93,642.71 219.51,642.29 220.06,641.86 C220.61,641.42 221.09,640.90 221.69,640.53 C222.29,640.16 223.06,639.96 223.68,639.62 C224.31,639.28 224.93,638.96 225.43,638.47 C225.93,637.97 226.20,637.16 226.70,636.64 C227.19,636.11 227.73,635.60 228.38,635.30 C229.03,634.99 229.88,635.02 230.60,634.83 C231.31,634.63 231.99,634.41 232.66,634.15 C233.32,633.89 233.92,633.51 234.59,633.27 C235.26,633.02 236.00,632.94 236.66,632.69 C237.33,632.44 237.96,632.12 238.60,631.76 C239.23,631.39 239.79,630.75 240.47,630.50 C241.14,630.24 241.91,630.20 242.65,630.22 C243.40,630.24 244.22,630.60 244.95,630.62 C245.69,630.63 246.37,630.47 247.08,630.32 C247.78,630.17 248.47,629.86 249.18,629.74 C249.89,629.61 250.61,629.66 251.33,629.58 C252.06,629.50 252.77,629.34 253.50,629.24 C254.23,629.14 254.97,628.89 255.69,628.98 C256.42,629.06 257.13,629.47 257.82,629.74 C258.52,630.01 259.17,630.47 259.88,630.59 C260.59,630.71 261.34,630.49 262.08,630.45 C262.82,630.41 263.60,630.26 264.32,630.34 C265.04,630.41 265.71,630.73 266.41,630.92 C267.11,631.10 267.82,631.25 268.51,631.45 C269.20,631.66 269.92,631.82 270.55,632.16 C271.18,632.51 271.69,633.14 272.29,633.52 C272.89,633.91 273.47,634.29 274.17,634.48 C274.87,634.67 275.76,634.51 276.50,634.66 C277.23,634.81 277.97,635.01 278.58,635.36 C279.19,635.72 279.63,636.36 280.18,636.81 C280.73,637.27 281.31,637.66 281.87,638.09 C282.42,638.51 283.02,638.90 283.53,639.38 C284.03,639.85 284.38,640.50 284.92,640.94 C285.45,641.39 286.07,641.73 286.73,642.06 C287.39,642.39 288.30,642.51 288.89,642.92 C289.48,643.33 289.89,643.91 290.25,644.52 C290.61,645.12 290.71,645.92 291.05,646.52 C291.39,647.13 291.87,647.62 292.31,648.15 C292.74,648.68 293.25,649.16 293.66,649.71 C294.06,650.26 294.32,650.90 294.75,651.44 C295.18,651.98 295.77,652.44 296.25,652.96 C296.74,653.48 297.38,653.95 297.67,654.57 C297.95,655.19 297.89,655.97 297.96,656.67 C298.04,657.37 297.91,658.13 298.11,658.77 C298.30,659.42 298.81,659.94 299.15,660.54 C299.50,661.14 299.91,661.73 300.17,662.35 C300.42,662.98 300.48,663.66 300.69,664.31 C300.90,664.96 301.24,665.58 301.42,666.23 C301.60,666.89 301.80,667.56 301.75,668.24 C301.71,668.92 301.28,669.64 301.16,670.32 C301.04,671.00 300.93,671.66 301.05,672.32 C301.17,672.98 301.70,673.63 301.90,674.30Z" fill="#b2cbe0"/>
<ellipse cx="243.7" cy="672.9" rx="24.1" ry="22.7" fill="#8dadc9"/>
<circle cx="230" cy="637" r="2.0" fill="#d6e4ef" opacity="0.85"/>
<circle cx="265" cy="633" r="1.6" fill="#d6e4ef" opacity="0.85"/>
<circle cx="219" cy="652" r="1.9" fill="#d6e4ef" opacity="0.85"/>
<circle cx="276" cy="642" r="1.5" fill="#d6e4ef" opacity="0.85"/>
<circle cx="210" cy="691" r="1.2" fill="#d6e4ef" opacity="0.85"/>
<circle cx="283" cy="656" r="0.9" fill="#d6e4ef" opacity="0.85"/>
<circle cx="266" cy="707" r="1.8" fill="#d6e4ef" opacity="0.85"/>
<circle cx="278" cy="700" r="0.9" fill="#d6e4ef" opacity="0.85"/>
<circle cx="226" cy="710" r="1.0" fill="#d6e4ef" opacity="0.85"/>
<circle cx="289" cy="690" r="1.3" fill="#d6e4ef" opacity="0.85"/>
<circle cx="250" cy="630" r="1.2" fill="#d6e4ef" opacity="0.85"/>
<circle cx="296" cy="670" r="0.9" fill="#d6e4ef" opacity="0.85"/>
<text x="252.30" y="672.40" font-size="9.45" text-anchor="middle" font-weight="bold" fill="#111">ROC1 tumor cells</text>
<text x="219.0" y="689.2" font-size="9.45" font-weight="bold" fill="#111">Mutant p53<tspan font-size="6.3" dy="-3.4">T122N</tspan></text>
<text x="157.70" y="591.60" font-size="8.7" font-weight="bold" fill="#111" textLength="45.45" lengthAdjust="spacingAndGlyphs">IFNγ, CCL2,</text>
<text x="157.70" y="603.90" font-size="8.7" font-weight="bold" fill="#111" textLength="64.36" lengthAdjust="spacingAndGlyphs">CXCL9, CXCL12,</text>
<text x="157.70" y="616.20" font-size="8.7" font-weight="bold" fill="#111" textLength="18.90" lengthAdjust="spacingAndGlyphs">IL-12</text>
<text x="107.20" y="678.30" font-size="8.7" font-weight="bold" fill="#111" textLength="16.65" lengthAdjust="spacingAndGlyphs">IL-6,</text>
<text x="107.20" y="690.60" font-size="8.7" font-weight="bold" fill="#111" textLength="21.15" lengthAdjust="spacingAndGlyphs">IL-12,</text>
<text x="107.20" y="702.90" font-size="8.7" font-weight="bold" fill="#111" textLength="18.90" lengthAdjust="spacingAndGlyphs">IL-17</text>
<text x="177.10" y="740.10" font-size="8.7" font-weight="bold" fill="#111" textLength="16.65" lengthAdjust="spacingAndGlyphs">IL-2,</text>
<text x="177.10" y="752.50" font-size="8.7" font-weight="bold" fill="#111" textLength="27.91" lengthAdjust="spacingAndGlyphs">CCL17,</text>
<text x="177.10" y="764.90" font-size="8.7" font-weight="bold" fill="#111" textLength="25.66" lengthAdjust="spacingAndGlyphs">CCL24</text>
<text x="312.60" y="593.20" font-size="8.7" font-weight="bold" fill="#111" textLength="71.11" lengthAdjust="spacingAndGlyphs">IFNγ, CCL2, CCL5,</text>
<text x="312.60" y="605.50" font-size="8.7" font-weight="bold" fill="#111" textLength="33.31" lengthAdjust="spacingAndGlyphs">CXCL12,</text>
<text x="312.60" y="617.80" font-size="8.7" font-weight="bold" fill="#111" textLength="86.86" lengthAdjust="spacingAndGlyphs">IL-6, IL-12, IL-17, IL-23,</text>
<text x="314.60" y="630.10" font-size="8.7" font-weight="bold" fill="#111" textLength="77.40" lengthAdjust="spacingAndGlyphs">M-CSF, GM-CSF etc.</text>
<text x="362.30" y="698.70" font-size="8.7" font-weight="bold" fill="#111" textLength="45.90" lengthAdjust="spacingAndGlyphs">IL-1R, IL-13,</text>
<text x="362.30" y="711.25" font-size="8.7" font-weight="bold" fill="#111" textLength="44.56" lengthAdjust="spacingAndGlyphs">IL-21, IL-33,</text>
<text x="362.30" y="723.80" font-size="8.7" font-weight="bold" fill="#111" textLength="14.85" lengthAdjust="spacingAndGlyphs">ST2</text>
<text x="243.70" y="763.60" font-size="8.7" font-weight="bold" fill="#111" textLength="91.80" lengthAdjust="spacingAndGlyphs">pro-MMP-9, IFNγ, CCL2,</text>
<text x="243.70" y="775.77" font-size="8.7" font-weight="bold" fill="#111" textLength="90.02" lengthAdjust="spacingAndGlyphs">CCL5, CXCL9, CXCL12,</text>
<text x="243.70" y="787.94" font-size="8.7" font-weight="bold" fill="#111" textLength="75.61" lengthAdjust="spacingAndGlyphs">CXCL16, IL-6, IL-10,</text>
<text x="243.70" y="800.11" font-size="8.7" font-weight="bold" fill="#111" textLength="48.15" lengthAdjust="spacingAndGlyphs">GM-CSF etc.</text>
<path d="M211.8,641.8 L178.4,622.4" fill="none" stroke="#c9302f" stroke-width="1.15"/>
<line x1="179.90" y1="619.80" x2="176.90" y2="625.00" stroke="#c9302f" stroke-width="1.1"/>
<path d="M202.8,671.0 C186,669.5 174,672 167.6,678.8" fill="none" stroke="#c9302f" stroke-width="1.15"/>
<line x1="165.48" y1="676.68" x2="169.72" y2="680.92" stroke="#c9302f" stroke-width="1.1"/>
<path d="M288.2,645.2 C300,635 320,632 333.6,644.8" fill="none" stroke="#c9302f" stroke-width="1.15"/>
<line x1="331.48" y1="646.92" x2="335.72" y2="642.68" stroke="#c9302f" stroke-width="1.1"/>
<path d="M241.2,720.7 C234,732 233,745 239.6,755.3" fill="none" stroke="#c9302f" stroke-width="1.15"/>
<line x1="237.00" y1="756.80" x2="242.20" y2="753.80" stroke="#c9302f" stroke-width="1.1"/>
<path d="M298.2,701.4 C305,707 313,706.5 322.5,705.9" fill="none" stroke="#62b545" stroke-width="1.3"/>
<path d="M327.00,705.90 L321.00,708.90 L322.50,705.90 L321.00,702.90Z" fill="#62b545"/>
<path d="M213.6,708.5 C204,711 198,718 197.0,726.5" fill="none" stroke="#62b545" stroke-width="1.3"/>
<path d="M196.50,731.50 L194.03,725.26 L196.89,727.02 L200.01,725.78Z" fill="#62b545"/>
<path d="M122.6,636.6 L67.9,665.4" fill="none" stroke="#44465e" stroke-width="1.15" stroke-dasharray="2.4 2.1"/>
<path d="M64.00,667.40 L67.63,662.30 L67.71,665.43 L70.26,667.24Z" fill="#44465e"/>
<path d="M54.5,722.7 C50,700 48,660 72.5,620.5" fill="none" stroke="#44465e" stroke-width="1.15" stroke-dasharray="2.4 2.1"/>
<path d="M75.80,616.70 L74.56,622.84 L73.21,620.01 L70.15,619.39Z" fill="#44465e"/>
<path d="M134.4,719.1 L109.6,754.0" fill="none" stroke="#44465e" stroke-width="1.2" stroke-dasharray="3.4 2.4"/>
<line x1="106.91" y1="752.99" x2="111.49" y2="756.21" stroke="#44465e" stroke-width="1.2"/>
<path d="M88.2,761.5 C104,768 118,782 121.8,797.5" fill="none" stroke="#44465e" stroke-width="1.15" stroke-dasharray="2.4 2.1"/>
<path d="M122.60,802.80 L119.32,797.47 L122.23,798.62 L124.90,796.98Z" fill="#44465e"/>
<path d="M161.7,760.4 L130.0,778.2" fill="none" stroke="#44465e" stroke-width="1.15" stroke-dasharray="2.4 2.1"/>
<path d="M125.50,780.70 L129.04,775.54 L129.17,778.66 L131.76,780.43Z" fill="#44465e"/>
<path d="M418.2,642.6 L466.5,642.6" fill="none" stroke="#44465e" stroke-width="1.15" stroke-dasharray="2.4 2.1"/>
<path d="M471.50,642.60 L465.90,645.40 L467.30,642.60 L465.90,639.80Z" fill="#44465e"/>
<path d="M383.9,718.4 L449.5,718.4" fill="none" stroke="#44465e" stroke-width="1.15" stroke-dasharray="2.4 2.1"/>
<path d="M454.50,718.40 L448.90,721.20 L450.30,718.40 L448.90,715.60Z" fill="#44465e"/>
<path d="M487.0,654.5 L487.0,631.5" fill="none" stroke="#44465e" stroke-width="1.15" stroke-dasharray="2.4 2.1"/>
<path d="M487.00,626.40 L489.80,632.00 L487.00,630.60 L484.20,632.00Z" fill="#44465e"/>
<path d="M476.1,708.3 L462.4,733.8" fill="none" stroke="#44465e" stroke-width="1.15" stroke-dasharray="2.4 2.1"/>
<path d="M459.80,738.40 L459.96,732.14 L461.77,734.69 L464.90,734.77Z" fill="#44465e"/>
<path d="M304.6,804.2 L334.5,804.2" fill="none" stroke="#44465e" stroke-width="1.15" stroke-dasharray="2.4 2.1"/>
<path d="M339.30,804.20 L333.70,807.00 L335.10,804.20 L333.70,801.40Z" fill="#44465e"/>
<path d="M279.3,817.4 L279.3,834.5" fill="none" stroke="#44465e" stroke-width="1.15" stroke-dasharray="2.4 2.1"/>
<path d="M279.30,839.50 L276.50,833.90 L279.30,835.30 L282.10,833.90Z" fill="#44465e"/>
<path d="M253.9,850.2 C272,843 295,841 312.5,848.6" fill="none" stroke="#44465e" stroke-width="1.15" stroke-dasharray="2.4 2.1"/>
<path d="M316.80,850.60 L310.54,850.77 L312.99,848.83 L312.91,845.70Z" fill="#44465e"/>
<text x="543.60" y="667.70" font-size="10.7" fill="#222">Secreted factors by</text>
<text x="543.60" y="680.50" font-size="10.7" fill="#222">ROC1 tumor cells:</text>
<text x="552.50" y="709.80" font-size="10.6" fill="#222">Mutant p53</text>
<line x1="551.30" y1="717.10" x2="637.50" y2="717.10" stroke="#80c342" stroke-width="2.4"/>
<path d="M636.5,710.6 L647.6,717.1 L636.5,723.6Z" fill="#80c342"/>
<text x="556.60" y="753.20" font-size="10.6" fill="#222">p53-KD</text>
<line x1="551.30" y1="760.40" x2="645.20" y2="760.40" stroke="#c8202a" stroke-width="2.2"/>
<line x1="644.60" y1="752.70" x2="644.60" y2="768.90" stroke="#c8202a" stroke-width="2.2"/>
</svg>
</body></html>
